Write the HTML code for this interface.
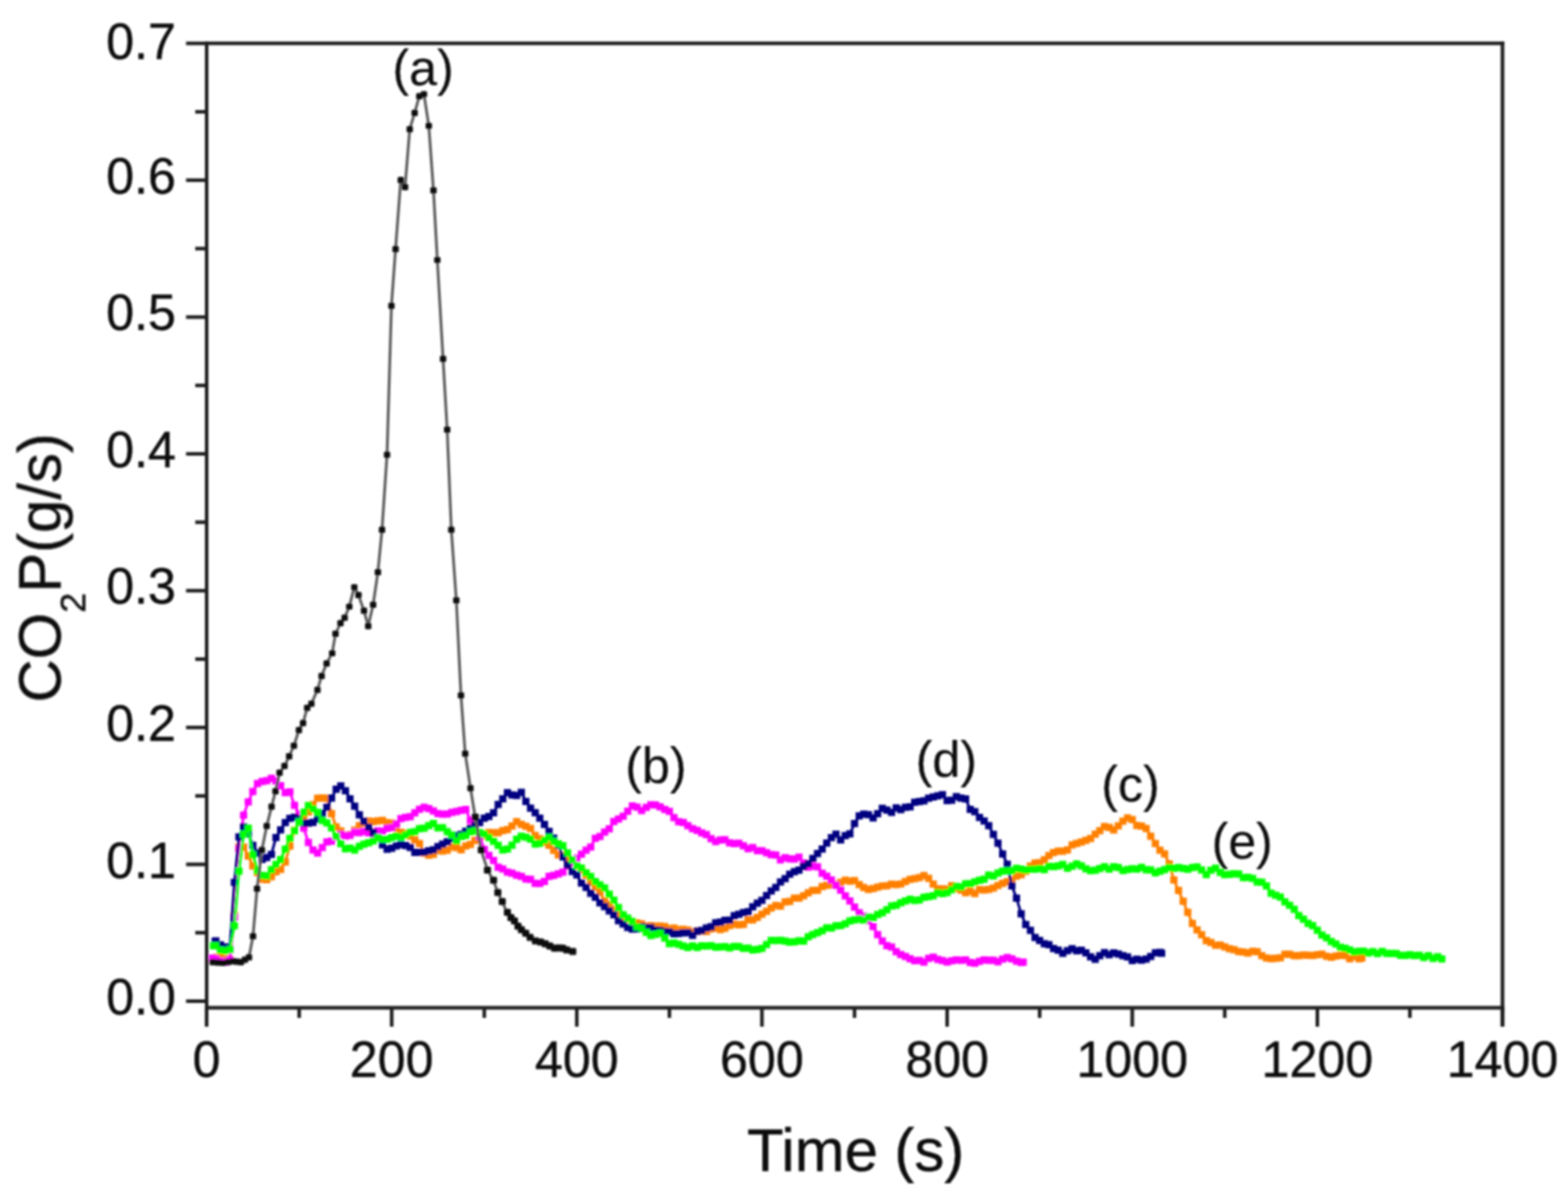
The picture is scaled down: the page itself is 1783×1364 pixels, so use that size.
<!DOCTYPE html><html><head><meta charset="utf-8"><title>CO2P vs Time</title><style>html,body{margin:0;padding:0;background:#fff;}svg{display:block;}</style></head><body>
<svg width="1783" height="1364" viewBox="0 0 1783 1364">
<rect width="1783" height="1364" fill="#fff"/>
<defs><filter id="bl" filterUnits="userSpaceOnUse" x="0" y="0" width="1783" height="1364"><feGaussianBlur stdDeviation="1.0"/></filter></defs>
<g filter="url(#bl)">
<g fill="#ff8000">
<polyline points="246.5,1088 250.7,1088.4 256,1089.5 261.2,1090.5 266.5,1040.5 271.7,962.6 277,962.9 282.3,973 287.5,984.3 292.8,991.8 298.1,999.4 303.3,999.9 308.6,996.5 313.8,990.9 319.1,988.2 324.4,979.8 329.6,961.7 334.9,943.9 340.2,934.6 345.4,928.3 350.7,922.9 355.9,914.6 361.2,907.3 366.5,907 371.7,907.4 377,924.8 382.3,939.9 387.5,944.4 392.8,949.7 398,948.7 403.3,943.6 408.6,938.5 413.8,935.9 419.1,933.3 424.4,933.9 429.6,933.1 434.9,932.5 440.2,935.1 445.4,935.6 450.7,941.4 455.9,946.1 461.2,947.7 466.5,950.4 471.7,954.7 477,958.8 482.3,969.7 487.5,972.1 492.8,971.1 498,966.7 503.3,967.4 508.6,966.4 513.8,962.7 519.1,963.4 524.4,965.9 529.6,961.6 534.9,959.9 540.1,955.3 545.4,952 550.7,949.5 555.9,946.3 561.2,946.5 566.5,946.5 571.7,944.1 577,943 582.2,938.9 587.5,933.9 592.8,937.1 598,939.2 603.3,941.7 608.6,949.7 613.8,953.3 619.1,957.3 624.4,960.8 629.6,966.5 634.9,971.7 640.1,972.2 645.4,977.5 650.7,979.5 655.9,984.5 661.2,988.7 666.5,994.6 671.7,1002.9 677,1008 682.2,1013.9 687.5,1024.3 692.8,1028.3 698,1033.8 703.3,1039.7 708.6,1042.9 713.8,1044.8 719.1,1051 724.3,1049.1 729.6,1050.1 734.9,1052.8 740.1,1052.1 745.4,1052.8 750.7,1052.6 755.9,1053.2 761.2,1055.6 766.4,1054.9 771.7,1056.7 777,1056.4 782.2,1057.2 787.5,1059.6 792.8,1058.4 798,1058.3 803.3,1058.8 808.6,1055.9 813.8,1054.9 819.1,1056.6 824.3,1055.2 829.6,1052.1 834.9,1050.5 840.1,1051.2 845.4,1050.7 850.7,1045.5 855.9,1045.6 861.2,1042.8 866.4,1039.2 871.7,1035.9 877,1032.1 882.2,1029.2 887.5,1030 892.8,1025.2 898,1024.6 903.3,1020.9 908.5,1020.9 913.8,1018.2 919.1,1014.8 924.3,1012.1 929.6,1012 934.9,1007.7 940.1,1006.3 945.4,1005.8 950.6,1005.4 955.9,1003 961.2,1000.5 966.4,1001.6 971.7,1000.9 977,1005.5 982.2,1008.8 987.5,1011 992.8,1010 998,1008.4 1003.3,1007.1 1008.5,1006.8 1013.8,1005 1019.1,1005.5 1024.3,1004.8 1029.6,1002 1034.9,999.6 1040.1,998.7 1045.4,997.6 1050.6,995.2 1055.9,998.4 1061.2,1004.9 1066.4,1010.3 1071.7,1010.4 1077,1010.7 1082.2,1006.7 1087.5,1009.6 1092.7,1011.7 1098,1014.7 1103.3,1013.2 1108.5,1015.7 1113.8,1011.2 1119.1,1011.6 1124.3,1011 1129.6,1009.4 1134.8,1006.5 1140.1,1004.1 1145.4,1002.2 1150.6,1000.4 1155.9,995.8 1161.2,994.3 1166.4,990.4 1171.7,984.4 1177,981 1182.2,980.6 1187.5,977.3 1192.7,972.5 1198,969.1 1203.3,967.5 1208.5,967.5 1213.8,966.1 1219.1,960.4 1224.3,958.7 1229.6,957.1 1234.8,955.2 1240.1,953.1 1245.4,948.2 1250.6,944.2 1255.9,939.5 1261.2,940.5 1266.4,943.4 1271.7,938.7 1276.9,933.4 1282.2,929.7 1287.5,931.6 1292.7,938.3 1298,939 1303.3,941.7 1308.5,950.5 1313.8,958.8 1319,966.4 1324.3,970.6 1329.6,982 1334.8,1000.2 1340.1,1012.1 1345.4,1024.4 1350.6,1037 1355.9,1049.7 1361.2,1057 1366.4,1062.5 1371.7,1069.2 1376.9,1071.3 1382.2,1074.4 1387.5,1074.2 1392.7,1076.3 1398,1078.4 1403.3,1079.5 1408.5,1081.6 1413.8,1082.1 1419,1083.3 1424.3,1081.4 1429.6,1081.8 1434.8,1086.3 1440.1,1088.9 1445.4,1089.7 1450.6,1089.3 1455.9,1088.7 1461.1,1084.7 1466.4,1084.7 1471.7,1086.3 1476.9,1086.3 1482.2,1085.6 1487.5,1085.8 1492.7,1086.1 1498,1085.2 1503.2,1084.6 1508.5,1087 1513.8,1088.1 1519,1086.7 1524.3,1085.9 1529.6,1086.2 1534.8,1089.8 1540.1,1087.3 1545.4,1089.8 1548.6,1089" fill="none" stroke="#ff8000" stroke-width="3" stroke-linejoin="round"/>
<rect x="242.4" y="1083.9" width="8.2" height="8.2"/>
<rect x="246.6" y="1084.3" width="8.2" height="8.2"/>
<rect x="251.9" y="1085.4" width="8.2" height="8.2"/>
<rect x="257.1" y="1086.4" width="8.2" height="8.2"/>
<rect x="262.4" y="1036.4" width="8.2" height="8.2"/>
<rect x="267.6" y="958.5" width="8.2" height="8.2"/>
<rect x="272.9" y="958.8" width="8.2" height="8.2"/>
<rect x="278.2" y="968.9" width="8.2" height="8.2"/>
<rect x="283.4" y="980.2" width="8.2" height="8.2"/>
<rect x="288.7" y="987.7" width="8.2" height="8.2"/>
<rect x="294" y="995.3" width="8.2" height="8.2"/>
<rect x="299.2" y="995.8" width="8.2" height="8.2"/>
<rect x="304.5" y="992.4" width="8.2" height="8.2"/>
<rect x="309.7" y="986.8" width="8.2" height="8.2"/>
<rect x="315" y="984.1" width="8.2" height="8.2"/>
<rect x="320.3" y="975.7" width="8.2" height="8.2"/>
<rect x="325.5" y="957.6" width="8.2" height="8.2"/>
<rect x="330.8" y="939.8" width="8.2" height="8.2"/>
<rect x="336.1" y="930.5" width="8.2" height="8.2"/>
<rect x="341.3" y="924.2" width="8.2" height="8.2"/>
<rect x="346.6" y="918.8" width="8.2" height="8.2"/>
<rect x="351.8" y="910.5" width="8.2" height="8.2"/>
<rect x="357.1" y="903.2" width="8.2" height="8.2"/>
<rect x="362.4" y="902.9" width="8.2" height="8.2"/>
<rect x="367.6" y="903.3" width="8.2" height="8.2"/>
<rect x="372.9" y="920.7" width="8.2" height="8.2"/>
<rect x="378.2" y="935.8" width="8.2" height="8.2"/>
<rect x="383.4" y="940.3" width="8.2" height="8.2"/>
<rect x="388.7" y="945.6" width="8.2" height="8.2"/>
<rect x="393.9" y="944.6" width="8.2" height="8.2"/>
<rect x="399.2" y="939.5" width="8.2" height="8.2"/>
<rect x="404.5" y="934.4" width="8.2" height="8.2"/>
<rect x="409.7" y="931.8" width="8.2" height="8.2"/>
<rect x="415" y="929.2" width="8.2" height="8.2"/>
<rect x="420.3" y="929.8" width="8.2" height="8.2"/>
<rect x="425.5" y="929" width="8.2" height="8.2"/>
<rect x="430.8" y="928.4" width="8.2" height="8.2"/>
<rect x="436.1" y="931" width="8.2" height="8.2"/>
<rect x="441.3" y="931.5" width="8.2" height="8.2"/>
<rect x="446.6" y="937.3" width="8.2" height="8.2"/>
<rect x="451.8" y="942" width="8.2" height="8.2"/>
<rect x="457.1" y="943.6" width="8.2" height="8.2"/>
<rect x="462.4" y="946.3" width="8.2" height="8.2"/>
<rect x="467.6" y="950.6" width="8.2" height="8.2"/>
<rect x="472.9" y="954.7" width="8.2" height="8.2"/>
<rect x="478.2" y="965.6" width="8.2" height="8.2"/>
<rect x="483.4" y="968" width="8.2" height="8.2"/>
<rect x="488.7" y="967" width="8.2" height="8.2"/>
<rect x="493.9" y="962.6" width="8.2" height="8.2"/>
<rect x="499.2" y="963.3" width="8.2" height="8.2"/>
<rect x="504.5" y="962.3" width="8.2" height="8.2"/>
<rect x="509.7" y="958.6" width="8.2" height="8.2"/>
<rect x="515" y="959.3" width="8.2" height="8.2"/>
<rect x="520.3" y="961.8" width="8.2" height="8.2"/>
<rect x="525.5" y="957.5" width="8.2" height="8.2"/>
<rect x="530.8" y="955.8" width="8.2" height="8.2"/>
<rect x="536" y="951.2" width="8.2" height="8.2"/>
<rect x="541.3" y="947.9" width="8.2" height="8.2"/>
<rect x="546.6" y="945.4" width="8.2" height="8.2"/>
<rect x="551.8" y="942.2" width="8.2" height="8.2"/>
<rect x="557.1" y="942.4" width="8.2" height="8.2"/>
<rect x="562.4" y="942.4" width="8.2" height="8.2"/>
<rect x="567.6" y="940" width="8.2" height="8.2"/>
<rect x="572.9" y="938.9" width="8.2" height="8.2"/>
<rect x="578.1" y="934.8" width="8.2" height="8.2"/>
<rect x="583.4" y="929.8" width="8.2" height="8.2"/>
<rect x="588.7" y="933" width="8.2" height="8.2"/>
<rect x="593.9" y="935.1" width="8.2" height="8.2"/>
<rect x="599.2" y="937.6" width="8.2" height="8.2"/>
<rect x="604.5" y="945.6" width="8.2" height="8.2"/>
<rect x="609.7" y="949.2" width="8.2" height="8.2"/>
<rect x="615" y="953.2" width="8.2" height="8.2"/>
<rect x="620.3" y="956.7" width="8.2" height="8.2"/>
<rect x="625.5" y="962.4" width="8.2" height="8.2"/>
<rect x="630.8" y="967.6" width="8.2" height="8.2"/>
<rect x="636" y="968.1" width="8.2" height="8.2"/>
<rect x="641.3" y="973.4" width="8.2" height="8.2"/>
<rect x="646.6" y="975.4" width="8.2" height="8.2"/>
<rect x="651.8" y="980.4" width="8.2" height="8.2"/>
<rect x="657.1" y="984.6" width="8.2" height="8.2"/>
<rect x="662.4" y="990.5" width="8.2" height="8.2"/>
<rect x="667.6" y="998.8" width="8.2" height="8.2"/>
<rect x="672.9" y="1003.9" width="8.2" height="8.2"/>
<rect x="678.1" y="1009.8" width="8.2" height="8.2"/>
<rect x="683.4" y="1020.2" width="8.2" height="8.2"/>
<rect x="688.7" y="1024.2" width="8.2" height="8.2"/>
<rect x="693.9" y="1029.7" width="8.2" height="8.2"/>
<rect x="699.2" y="1035.6" width="8.2" height="8.2"/>
<rect x="704.5" y="1038.8" width="8.2" height="8.2"/>
<rect x="709.7" y="1040.7" width="8.2" height="8.2"/>
<rect x="715" y="1046.9" width="8.2" height="8.2"/>
<rect x="720.2" y="1045" width="8.2" height="8.2"/>
<rect x="725.5" y="1046" width="8.2" height="8.2"/>
<rect x="730.8" y="1048.7" width="8.2" height="8.2"/>
<rect x="736" y="1048" width="8.2" height="8.2"/>
<rect x="741.3" y="1048.7" width="8.2" height="8.2"/>
<rect x="746.6" y="1048.5" width="8.2" height="8.2"/>
<rect x="751.8" y="1049.1" width="8.2" height="8.2"/>
<rect x="757.1" y="1051.5" width="8.2" height="8.2"/>
<rect x="762.3" y="1050.8" width="8.2" height="8.2"/>
<rect x="767.6" y="1052.6" width="8.2" height="8.2"/>
<rect x="772.9" y="1052.3" width="8.2" height="8.2"/>
<rect x="778.1" y="1053.1" width="8.2" height="8.2"/>
<rect x="783.4" y="1055.5" width="8.2" height="8.2"/>
<rect x="788.7" y="1054.3" width="8.2" height="8.2"/>
<rect x="793.9" y="1054.2" width="8.2" height="8.2"/>
<rect x="799.2" y="1054.7" width="8.2" height="8.2"/>
<rect x="804.5" y="1051.8" width="8.2" height="8.2"/>
<rect x="809.7" y="1050.8" width="8.2" height="8.2"/>
<rect x="815" y="1052.5" width="8.2" height="8.2"/>
<rect x="820.2" y="1051.1" width="8.2" height="8.2"/>
<rect x="825.5" y="1048" width="8.2" height="8.2"/>
<rect x="830.8" y="1046.4" width="8.2" height="8.2"/>
<rect x="836" y="1047.1" width="8.2" height="8.2"/>
<rect x="841.3" y="1046.6" width="8.2" height="8.2"/>
<rect x="846.6" y="1041.4" width="8.2" height="8.2"/>
<rect x="851.8" y="1041.5" width="8.2" height="8.2"/>
<rect x="857.1" y="1038.7" width="8.2" height="8.2"/>
<rect x="862.3" y="1035.1" width="8.2" height="8.2"/>
<rect x="867.6" y="1031.8" width="8.2" height="8.2"/>
<rect x="872.9" y="1028" width="8.2" height="8.2"/>
<rect x="878.1" y="1025.1" width="8.2" height="8.2"/>
<rect x="883.4" y="1025.9" width="8.2" height="8.2"/>
<rect x="888.7" y="1021.1" width="8.2" height="8.2"/>
<rect x="893.9" y="1020.5" width="8.2" height="8.2"/>
<rect x="899.2" y="1016.8" width="8.2" height="8.2"/>
<rect x="904.4" y="1016.8" width="8.2" height="8.2"/>
<rect x="909.7" y="1014.1" width="8.2" height="8.2"/>
<rect x="915" y="1010.7" width="8.2" height="8.2"/>
<rect x="920.2" y="1008" width="8.2" height="8.2"/>
<rect x="925.5" y="1007.9" width="8.2" height="8.2"/>
<rect x="930.8" y="1003.6" width="8.2" height="8.2"/>
<rect x="936" y="1002.2" width="8.2" height="8.2"/>
<rect x="941.3" y="1001.7" width="8.2" height="8.2"/>
<rect x="946.5" y="1001.3" width="8.2" height="8.2"/>
<rect x="951.8" y="998.9" width="8.2" height="8.2"/>
<rect x="957.1" y="996.4" width="8.2" height="8.2"/>
<rect x="962.3" y="997.5" width="8.2" height="8.2"/>
<rect x="967.6" y="996.8" width="8.2" height="8.2"/>
<rect x="972.9" y="1001.4" width="8.2" height="8.2"/>
<rect x="978.1" y="1004.7" width="8.2" height="8.2"/>
<rect x="983.4" y="1006.9" width="8.2" height="8.2"/>
<rect x="988.7" y="1005.9" width="8.2" height="8.2"/>
<rect x="993.9" y="1004.3" width="8.2" height="8.2"/>
<rect x="999.2" y="1003" width="8.2" height="8.2"/>
<rect x="1004.4" y="1002.7" width="8.2" height="8.2"/>
<rect x="1009.7" y="1000.9" width="8.2" height="8.2"/>
<rect x="1015" y="1001.4" width="8.2" height="8.2"/>
<rect x="1020.2" y="1000.7" width="8.2" height="8.2"/>
<rect x="1025.5" y="997.9" width="8.2" height="8.2"/>
<rect x="1030.8" y="995.5" width="8.2" height="8.2"/>
<rect x="1036" y="994.6" width="8.2" height="8.2"/>
<rect x="1041.3" y="993.5" width="8.2" height="8.2"/>
<rect x="1046.5" y="991.1" width="8.2" height="8.2"/>
<rect x="1051.8" y="994.3" width="8.2" height="8.2"/>
<rect x="1057.1" y="1000.8" width="8.2" height="8.2"/>
<rect x="1062.3" y="1006.2" width="8.2" height="8.2"/>
<rect x="1067.6" y="1006.3" width="8.2" height="8.2"/>
<rect x="1072.9" y="1006.6" width="8.2" height="8.2"/>
<rect x="1078.1" y="1002.6" width="8.2" height="8.2"/>
<rect x="1083.4" y="1005.5" width="8.2" height="8.2"/>
<rect x="1088.6" y="1007.6" width="8.2" height="8.2"/>
<rect x="1093.9" y="1010.6" width="8.2" height="8.2"/>
<rect x="1099.2" y="1009.1" width="8.2" height="8.2"/>
<rect x="1104.4" y="1011.6" width="8.2" height="8.2"/>
<rect x="1109.7" y="1007.1" width="8.2" height="8.2"/>
<rect x="1115" y="1007.5" width="8.2" height="8.2"/>
<rect x="1120.2" y="1006.9" width="8.2" height="8.2"/>
<rect x="1125.5" y="1005.3" width="8.2" height="8.2"/>
<rect x="1130.7" y="1002.4" width="8.2" height="8.2"/>
<rect x="1136" y="1000" width="8.2" height="8.2"/>
<rect x="1141.3" y="998.1" width="8.2" height="8.2"/>
<rect x="1146.5" y="996.3" width="8.2" height="8.2"/>
<rect x="1151.8" y="991.7" width="8.2" height="8.2"/>
<rect x="1157.1" y="990.2" width="8.2" height="8.2"/>
<rect x="1162.3" y="986.3" width="8.2" height="8.2"/>
<rect x="1167.6" y="980.3" width="8.2" height="8.2"/>
<rect x="1172.9" y="976.9" width="8.2" height="8.2"/>
<rect x="1178.1" y="976.5" width="8.2" height="8.2"/>
<rect x="1183.4" y="973.2" width="8.2" height="8.2"/>
<rect x="1188.6" y="968.4" width="8.2" height="8.2"/>
<rect x="1193.9" y="965" width="8.2" height="8.2"/>
<rect x="1199.2" y="963.4" width="8.2" height="8.2"/>
<rect x="1204.4" y="963.4" width="8.2" height="8.2"/>
<rect x="1209.7" y="962" width="8.2" height="8.2"/>
<rect x="1215" y="956.3" width="8.2" height="8.2"/>
<rect x="1220.2" y="954.6" width="8.2" height="8.2"/>
<rect x="1225.5" y="953" width="8.2" height="8.2"/>
<rect x="1230.7" y="951.1" width="8.2" height="8.2"/>
<rect x="1236" y="949" width="8.2" height="8.2"/>
<rect x="1241.3" y="944.1" width="8.2" height="8.2"/>
<rect x="1246.5" y="940.1" width="8.2" height="8.2"/>
<rect x="1251.8" y="935.4" width="8.2" height="8.2"/>
<rect x="1257.1" y="936.4" width="8.2" height="8.2"/>
<rect x="1262.3" y="939.3" width="8.2" height="8.2"/>
<rect x="1267.6" y="934.6" width="8.2" height="8.2"/>
<rect x="1272.8" y="929.3" width="8.2" height="8.2"/>
<rect x="1278.1" y="925.6" width="8.2" height="8.2"/>
<rect x="1283.4" y="927.5" width="8.2" height="8.2"/>
<rect x="1288.6" y="934.2" width="8.2" height="8.2"/>
<rect x="1293.9" y="934.9" width="8.2" height="8.2"/>
<rect x="1299.2" y="937.6" width="8.2" height="8.2"/>
<rect x="1304.4" y="946.4" width="8.2" height="8.2"/>
<rect x="1309.7" y="954.7" width="8.2" height="8.2"/>
<rect x="1314.9" y="962.3" width="8.2" height="8.2"/>
<rect x="1320.2" y="966.5" width="8.2" height="8.2"/>
<rect x="1325.5" y="977.9" width="8.2" height="8.2"/>
<rect x="1330.7" y="996.1" width="8.2" height="8.2"/>
<rect x="1336" y="1008" width="8.2" height="8.2"/>
<rect x="1341.3" y="1020.3" width="8.2" height="8.2"/>
<rect x="1346.5" y="1032.9" width="8.2" height="8.2"/>
<rect x="1351.8" y="1045.6" width="8.2" height="8.2"/>
<rect x="1357.1" y="1052.9" width="8.2" height="8.2"/>
<rect x="1362.3" y="1058.4" width="8.2" height="8.2"/>
<rect x="1367.6" y="1065.1" width="8.2" height="8.2"/>
<rect x="1372.8" y="1067.2" width="8.2" height="8.2"/>
<rect x="1378.1" y="1070.3" width="8.2" height="8.2"/>
<rect x="1383.4" y="1070.1" width="8.2" height="8.2"/>
<rect x="1388.6" y="1072.2" width="8.2" height="8.2"/>
<rect x="1393.9" y="1074.3" width="8.2" height="8.2"/>
<rect x="1399.2" y="1075.4" width="8.2" height="8.2"/>
<rect x="1404.4" y="1077.5" width="8.2" height="8.2"/>
<rect x="1409.7" y="1078" width="8.2" height="8.2"/>
<rect x="1414.9" y="1079.2" width="8.2" height="8.2"/>
<rect x="1420.2" y="1077.3" width="8.2" height="8.2"/>
<rect x="1425.5" y="1077.7" width="8.2" height="8.2"/>
<rect x="1430.7" y="1082.2" width="8.2" height="8.2"/>
<rect x="1436" y="1084.8" width="8.2" height="8.2"/>
<rect x="1441.3" y="1085.6" width="8.2" height="8.2"/>
<rect x="1446.5" y="1085.2" width="8.2" height="8.2"/>
<rect x="1451.8" y="1084.6" width="8.2" height="8.2"/>
<rect x="1457" y="1080.6" width="8.2" height="8.2"/>
<rect x="1462.3" y="1080.6" width="8.2" height="8.2"/>
<rect x="1467.6" y="1082.2" width="8.2" height="8.2"/>
<rect x="1472.8" y="1082.2" width="8.2" height="8.2"/>
<rect x="1478.1" y="1081.5" width="8.2" height="8.2"/>
<rect x="1483.4" y="1081.7" width="8.2" height="8.2"/>
<rect x="1488.6" y="1082" width="8.2" height="8.2"/>
<rect x="1493.9" y="1081.1" width="8.2" height="8.2"/>
<rect x="1499.1" y="1080.5" width="8.2" height="8.2"/>
<rect x="1504.4" y="1082.9" width="8.2" height="8.2"/>
<rect x="1509.7" y="1084" width="8.2" height="8.2"/>
<rect x="1514.9" y="1082.6" width="8.2" height="8.2"/>
<rect x="1520.2" y="1081.8" width="8.2" height="8.2"/>
<rect x="1525.5" y="1082.1" width="8.2" height="8.2"/>
<rect x="1530.7" y="1085.7" width="8.2" height="8.2"/>
<rect x="1536" y="1083.2" width="8.2" height="8.2"/>
<rect x="1541.3" y="1085.7" width="8.2" height="8.2"/>
<rect x="1544.5" y="1084.9" width="8.2" height="8.2"/>
</g>
<g fill="#ff00ff">
<polyline points="241.9,1089 245.4,1090.1 250.7,1092.5 256,1093.4 261.2,1090.9 266.5,1042.7 271.7,964.5 277,926.6 282.3,911.5 287.5,899.7 292.8,890.6 298.1,888.3 303.3,887.4 308.6,884.7 313.8,887.6 319.1,893.1 324.4,901 329.6,900.1 334.9,915.4 340.2,925.1 345.4,941.3 350.7,957.6 355.9,966.2 361.2,969.6 366.5,963.4 371.7,957 377,956.1 382.3,951.6 387.5,948.5 392.8,950.3 398,949.5 403.3,946.1 408.6,946.4 413.8,945.1 419.1,946.6 424.4,947.9 429.6,944.5 434.9,944.9 440.2,941.6 445.4,940.7 450.7,936.7 455.9,930.5 461.2,929.1 466.5,928.3 471.7,923.9 477,919.9 482.3,917.6 487.5,919.1 492.8,921.8 498,924.8 503.3,925.4 508.6,925.3 513.8,923.4 519.1,922.4 524.4,921.1 529.6,920.1 534.9,932.5 540.1,938.3 545.4,950.8 550.7,965.6 555.9,972.4 561.2,978.1 566.5,985.8 571.7,987.7 577,991.3 582.2,992.5 587.5,994.8 592.8,996.2 598,999.2 603.3,999.5 608.6,1004.1 613.8,1004.2 619.1,1001.9 624.4,996.1 629.6,995 634.9,993.3 640.1,991.3 645.4,984 650.7,981 655.9,975.6 661.2,970.9 666.5,966.4 671.7,962.8 677,952.9 682.2,950.8 687.5,945.8 692.8,942.1 698,933.8 703.3,931 708.6,927.8 713.8,922.1 719.1,916.1 724.3,917.4 729.6,921.3 734.9,917.7 740.1,914.8 745.4,915 750.7,917.2 755.9,920.1 761.2,922.3 766.4,929.4 771.7,934 777,934.9 782.2,938.5 787.5,941.9 792.8,943.9 798,946.7 803.3,948.7 808.6,953.3 813.8,956.6 819.1,954.8 824.3,954.5 829.6,958 834.9,958.9 840.1,958.5 845.4,961.4 850.7,964.7 855.9,963.4 861.2,966.9 866.4,967 871.7,969.3 877,971.5 882.2,971.9 887.5,977.4 892.8,974.9 898,976.2 903.3,976.4 908.5,974.3 913.8,981 919.1,985.6 924.3,984.6 929.6,985.3 934.9,992.6 940.1,995.9 945.4,1000.3 950.6,1006.3 955.9,1011.8 961.2,1018.3 966.4,1024.1 971.7,1031.1 977,1037.5 982.2,1041.4 987.5,1046.6 992.8,1053.2 998,1062.4 1003.3,1069.6 1008.5,1074.9 1013.8,1076.5 1019.1,1081.7 1024.3,1085 1029.6,1087.2 1034.9,1089.8 1040.1,1092 1045.4,1091.7 1050.6,1093.6 1055.9,1089.4 1061.2,1088 1066.4,1090.6 1071.7,1091.8 1077,1093.5 1082.2,1092.1 1087.5,1091.1 1092.7,1091.5 1098,1091.1 1103.3,1094 1108.5,1094.8 1113.8,1092.7 1119.1,1091.1 1124.3,1091.5 1129.6,1091.5 1134.8,1093.2 1140.1,1090.2 1145.4,1088.4 1150.6,1089.9 1155.9,1092.5 1161.2,1094 1163.5,1093.6" fill="none" stroke="#ff00ff" stroke-width="3" stroke-linejoin="round"/>
<rect x="237.8" y="1084.9" width="8.2" height="8.2"/>
<rect x="241.3" y="1086" width="8.2" height="8.2"/>
<rect x="246.6" y="1088.4" width="8.2" height="8.2"/>
<rect x="251.9" y="1089.3" width="8.2" height="8.2"/>
<rect x="257.1" y="1086.8" width="8.2" height="8.2"/>
<rect x="262.4" y="1038.6" width="8.2" height="8.2"/>
<rect x="267.6" y="960.4" width="8.2" height="8.2"/>
<rect x="272.9" y="922.5" width="8.2" height="8.2"/>
<rect x="278.2" y="907.4" width="8.2" height="8.2"/>
<rect x="283.4" y="895.6" width="8.2" height="8.2"/>
<rect x="288.7" y="886.5" width="8.2" height="8.2"/>
<rect x="294" y="884.2" width="8.2" height="8.2"/>
<rect x="299.2" y="883.3" width="8.2" height="8.2"/>
<rect x="304.5" y="880.6" width="8.2" height="8.2"/>
<rect x="309.7" y="883.5" width="8.2" height="8.2"/>
<rect x="315" y="889" width="8.2" height="8.2"/>
<rect x="320.3" y="896.9" width="8.2" height="8.2"/>
<rect x="325.5" y="896" width="8.2" height="8.2"/>
<rect x="330.8" y="911.3" width="8.2" height="8.2"/>
<rect x="336.1" y="921" width="8.2" height="8.2"/>
<rect x="341.3" y="937.2" width="8.2" height="8.2"/>
<rect x="346.6" y="953.5" width="8.2" height="8.2"/>
<rect x="351.8" y="962.1" width="8.2" height="8.2"/>
<rect x="357.1" y="965.5" width="8.2" height="8.2"/>
<rect x="362.4" y="959.3" width="8.2" height="8.2"/>
<rect x="367.6" y="952.9" width="8.2" height="8.2"/>
<rect x="372.9" y="952" width="8.2" height="8.2"/>
<rect x="378.2" y="947.5" width="8.2" height="8.2"/>
<rect x="383.4" y="944.4" width="8.2" height="8.2"/>
<rect x="388.7" y="946.2" width="8.2" height="8.2"/>
<rect x="393.9" y="945.4" width="8.2" height="8.2"/>
<rect x="399.2" y="942" width="8.2" height="8.2"/>
<rect x="404.5" y="942.3" width="8.2" height="8.2"/>
<rect x="409.7" y="941" width="8.2" height="8.2"/>
<rect x="415" y="942.5" width="8.2" height="8.2"/>
<rect x="420.3" y="943.8" width="8.2" height="8.2"/>
<rect x="425.5" y="940.4" width="8.2" height="8.2"/>
<rect x="430.8" y="940.8" width="8.2" height="8.2"/>
<rect x="436.1" y="937.5" width="8.2" height="8.2"/>
<rect x="441.3" y="936.6" width="8.2" height="8.2"/>
<rect x="446.6" y="932.6" width="8.2" height="8.2"/>
<rect x="451.8" y="926.4" width="8.2" height="8.2"/>
<rect x="457.1" y="925" width="8.2" height="8.2"/>
<rect x="462.4" y="924.2" width="8.2" height="8.2"/>
<rect x="467.6" y="919.8" width="8.2" height="8.2"/>
<rect x="472.9" y="915.8" width="8.2" height="8.2"/>
<rect x="478.2" y="913.5" width="8.2" height="8.2"/>
<rect x="483.4" y="915" width="8.2" height="8.2"/>
<rect x="488.7" y="917.7" width="8.2" height="8.2"/>
<rect x="493.9" y="920.7" width="8.2" height="8.2"/>
<rect x="499.2" y="921.3" width="8.2" height="8.2"/>
<rect x="504.5" y="921.2" width="8.2" height="8.2"/>
<rect x="509.7" y="919.3" width="8.2" height="8.2"/>
<rect x="515" y="918.3" width="8.2" height="8.2"/>
<rect x="520.3" y="917" width="8.2" height="8.2"/>
<rect x="525.5" y="916" width="8.2" height="8.2"/>
<rect x="530.8" y="928.4" width="8.2" height="8.2"/>
<rect x="536" y="934.2" width="8.2" height="8.2"/>
<rect x="541.3" y="946.7" width="8.2" height="8.2"/>
<rect x="546.6" y="961.5" width="8.2" height="8.2"/>
<rect x="551.8" y="968.3" width="8.2" height="8.2"/>
<rect x="557.1" y="974" width="8.2" height="8.2"/>
<rect x="562.4" y="981.7" width="8.2" height="8.2"/>
<rect x="567.6" y="983.6" width="8.2" height="8.2"/>
<rect x="572.9" y="987.2" width="8.2" height="8.2"/>
<rect x="578.1" y="988.4" width="8.2" height="8.2"/>
<rect x="583.4" y="990.7" width="8.2" height="8.2"/>
<rect x="588.7" y="992.1" width="8.2" height="8.2"/>
<rect x="593.9" y="995.1" width="8.2" height="8.2"/>
<rect x="599.2" y="995.4" width="8.2" height="8.2"/>
<rect x="604.5" y="1000" width="8.2" height="8.2"/>
<rect x="609.7" y="1000.1" width="8.2" height="8.2"/>
<rect x="615" y="997.8" width="8.2" height="8.2"/>
<rect x="620.3" y="992" width="8.2" height="8.2"/>
<rect x="625.5" y="990.9" width="8.2" height="8.2"/>
<rect x="630.8" y="989.2" width="8.2" height="8.2"/>
<rect x="636" y="987.2" width="8.2" height="8.2"/>
<rect x="641.3" y="979.9" width="8.2" height="8.2"/>
<rect x="646.6" y="976.9" width="8.2" height="8.2"/>
<rect x="651.8" y="971.5" width="8.2" height="8.2"/>
<rect x="657.1" y="966.8" width="8.2" height="8.2"/>
<rect x="662.4" y="962.3" width="8.2" height="8.2"/>
<rect x="667.6" y="958.7" width="8.2" height="8.2"/>
<rect x="672.9" y="948.8" width="8.2" height="8.2"/>
<rect x="678.1" y="946.7" width="8.2" height="8.2"/>
<rect x="683.4" y="941.7" width="8.2" height="8.2"/>
<rect x="688.7" y="938" width="8.2" height="8.2"/>
<rect x="693.9" y="929.7" width="8.2" height="8.2"/>
<rect x="699.2" y="926.9" width="8.2" height="8.2"/>
<rect x="704.5" y="923.7" width="8.2" height="8.2"/>
<rect x="709.7" y="918" width="8.2" height="8.2"/>
<rect x="715" y="912" width="8.2" height="8.2"/>
<rect x="720.2" y="913.3" width="8.2" height="8.2"/>
<rect x="725.5" y="917.2" width="8.2" height="8.2"/>
<rect x="730.8" y="913.6" width="8.2" height="8.2"/>
<rect x="736" y="910.7" width="8.2" height="8.2"/>
<rect x="741.3" y="910.9" width="8.2" height="8.2"/>
<rect x="746.6" y="913.1" width="8.2" height="8.2"/>
<rect x="751.8" y="916" width="8.2" height="8.2"/>
<rect x="757.1" y="918.2" width="8.2" height="8.2"/>
<rect x="762.3" y="925.3" width="8.2" height="8.2"/>
<rect x="767.6" y="929.9" width="8.2" height="8.2"/>
<rect x="772.9" y="930.8" width="8.2" height="8.2"/>
<rect x="778.1" y="934.4" width="8.2" height="8.2"/>
<rect x="783.4" y="937.8" width="8.2" height="8.2"/>
<rect x="788.7" y="939.8" width="8.2" height="8.2"/>
<rect x="793.9" y="942.6" width="8.2" height="8.2"/>
<rect x="799.2" y="944.6" width="8.2" height="8.2"/>
<rect x="804.5" y="949.2" width="8.2" height="8.2"/>
<rect x="809.7" y="952.5" width="8.2" height="8.2"/>
<rect x="815" y="950.7" width="8.2" height="8.2"/>
<rect x="820.2" y="950.4" width="8.2" height="8.2"/>
<rect x="825.5" y="953.9" width="8.2" height="8.2"/>
<rect x="830.8" y="954.8" width="8.2" height="8.2"/>
<rect x="836" y="954.4" width="8.2" height="8.2"/>
<rect x="841.3" y="957.3" width="8.2" height="8.2"/>
<rect x="846.6" y="960.6" width="8.2" height="8.2"/>
<rect x="851.8" y="959.3" width="8.2" height="8.2"/>
<rect x="857.1" y="962.8" width="8.2" height="8.2"/>
<rect x="862.3" y="962.9" width="8.2" height="8.2"/>
<rect x="867.6" y="965.2" width="8.2" height="8.2"/>
<rect x="872.9" y="967.4" width="8.2" height="8.2"/>
<rect x="878.1" y="967.8" width="8.2" height="8.2"/>
<rect x="883.4" y="973.3" width="8.2" height="8.2"/>
<rect x="888.7" y="970.8" width="8.2" height="8.2"/>
<rect x="893.9" y="972.1" width="8.2" height="8.2"/>
<rect x="899.2" y="972.3" width="8.2" height="8.2"/>
<rect x="904.4" y="970.2" width="8.2" height="8.2"/>
<rect x="909.7" y="976.9" width="8.2" height="8.2"/>
<rect x="915" y="981.5" width="8.2" height="8.2"/>
<rect x="920.2" y="980.5" width="8.2" height="8.2"/>
<rect x="925.5" y="981.2" width="8.2" height="8.2"/>
<rect x="930.8" y="988.5" width="8.2" height="8.2"/>
<rect x="936" y="991.8" width="8.2" height="8.2"/>
<rect x="941.3" y="996.2" width="8.2" height="8.2"/>
<rect x="946.5" y="1002.2" width="8.2" height="8.2"/>
<rect x="951.8" y="1007.7" width="8.2" height="8.2"/>
<rect x="957.1" y="1014.2" width="8.2" height="8.2"/>
<rect x="962.3" y="1020" width="8.2" height="8.2"/>
<rect x="967.6" y="1027" width="8.2" height="8.2"/>
<rect x="972.9" y="1033.4" width="8.2" height="8.2"/>
<rect x="978.1" y="1037.3" width="8.2" height="8.2"/>
<rect x="983.4" y="1042.5" width="8.2" height="8.2"/>
<rect x="988.7" y="1049.1" width="8.2" height="8.2"/>
<rect x="993.9" y="1058.3" width="8.2" height="8.2"/>
<rect x="999.2" y="1065.5" width="8.2" height="8.2"/>
<rect x="1004.4" y="1070.8" width="8.2" height="8.2"/>
<rect x="1009.7" y="1072.4" width="8.2" height="8.2"/>
<rect x="1015" y="1077.6" width="8.2" height="8.2"/>
<rect x="1020.2" y="1080.9" width="8.2" height="8.2"/>
<rect x="1025.5" y="1083.1" width="8.2" height="8.2"/>
<rect x="1030.8" y="1085.7" width="8.2" height="8.2"/>
<rect x="1036" y="1087.9" width="8.2" height="8.2"/>
<rect x="1041.3" y="1087.6" width="8.2" height="8.2"/>
<rect x="1046.5" y="1089.5" width="8.2" height="8.2"/>
<rect x="1051.8" y="1085.3" width="8.2" height="8.2"/>
<rect x="1057.1" y="1083.9" width="8.2" height="8.2"/>
<rect x="1062.3" y="1086.5" width="8.2" height="8.2"/>
<rect x="1067.6" y="1087.7" width="8.2" height="8.2"/>
<rect x="1072.9" y="1089.4" width="8.2" height="8.2"/>
<rect x="1078.1" y="1088" width="8.2" height="8.2"/>
<rect x="1083.4" y="1087" width="8.2" height="8.2"/>
<rect x="1088.6" y="1087.4" width="8.2" height="8.2"/>
<rect x="1093.9" y="1087" width="8.2" height="8.2"/>
<rect x="1099.2" y="1089.9" width="8.2" height="8.2"/>
<rect x="1104.4" y="1090.7" width="8.2" height="8.2"/>
<rect x="1109.7" y="1088.6" width="8.2" height="8.2"/>
<rect x="1115" y="1087" width="8.2" height="8.2"/>
<rect x="1120.2" y="1087.4" width="8.2" height="8.2"/>
<rect x="1125.5" y="1087.4" width="8.2" height="8.2"/>
<rect x="1130.7" y="1089.1" width="8.2" height="8.2"/>
<rect x="1136" y="1086.1" width="8.2" height="8.2"/>
<rect x="1141.3" y="1084.3" width="8.2" height="8.2"/>
<rect x="1146.5" y="1085.8" width="8.2" height="8.2"/>
<rect x="1151.8" y="1088.4" width="8.2" height="8.2"/>
<rect x="1157.1" y="1089.9" width="8.2" height="8.2"/>
<rect x="1159.4" y="1089.5" width="8.2" height="8.2"/>
</g>
<g fill="#000080">
<polyline points="244.7,1070 245.4,1069.5 250.7,1074 256,1076.4 261.2,1079 266.5,1003 271.7,951.3 277,939.9 282.3,947.6 287.5,960.9 292.8,969.7 298.1,976.9 303.3,974.7 308.6,971.2 313.8,952 319.1,943.3 324.4,935 329.6,930.2 334.9,929 340.2,930.8 345.4,935.7 350.7,935.6 355.9,934.8 361.2,931 366.5,924.6 371.7,917.5 377,907.2 382.3,897.1 387.5,893.3 392.8,898.8 398,908 403.3,916.4 408.6,926.2 413.8,933.6 419.1,940.1 424.4,946.3 429.6,951.8 434.9,960.3 440.2,965.3 445.4,964.2 450.7,961.5 455.9,959.9 461.2,961.1 466.5,963.3 471.7,968.9 477,968.8 482.3,968.6 487.5,967.1 492.8,966 498,962.3 503.3,959.5 508.6,956.8 513.8,953.4 519.1,949.8 524.4,948.5 529.6,944.9 534.9,941.5 540.1,938 545.4,935 550.7,930 555.9,928.1 561.2,923.9 566.5,914.4 571.7,908 577,901 582.2,903.6 587.5,904.2 592.8,900.6 598,911 603.3,918.6 608.6,923.8 613.8,930 619.1,937.1 624.4,945 629.6,952.7 634.9,960.6 640.1,974 645.4,983.3 650.7,990.6 655.9,994.5 661.2,1003.7 666.5,1008.7 671.7,1015.4 677,1019.9 682.2,1026.2 687.5,1030.5 692.8,1035.4 698,1039.8 703.3,1046.5 708.6,1050.3 713.8,1054.3 719.1,1056.1 724.3,1055.9 729.6,1053.3 734.9,1054.4 740.1,1054.5 745.4,1057.3 750.7,1057.7 755.9,1058.9 761.2,1059.2 766.4,1061.5 771.7,1061.1 777,1060.3 782.2,1060.1 787.5,1063.2 792.8,1058.5 798,1057.6 803.3,1054.8 808.6,1053.4 813.8,1048.9 819.1,1048.2 824.3,1046.1 829.6,1045.9 834.9,1040.8 840.1,1039.3 845.4,1037.3 850.7,1036.3 855.9,1030.7 861.2,1026.6 866.4,1023.4 871.7,1017.9 877,1012.7 882.2,1008.7 887.5,1002.5 892.8,998.7 898,993.7 903.3,990.8 908.5,989.1 913.8,984.7 919.1,981.9 924.3,975.8 929.6,970.2 934.9,965.1 940.1,958.3 945.4,952.1 950.6,948.2 955.9,954.7 961.2,949.8 966.4,947.8 971.7,936.1 977,927.4 982.2,925.4 987.5,926 992.8,929.7 998,924.9 1003.3,918.8 1008.5,920.8 1013.8,923.4 1019.1,918.3 1024.3,920.3 1029.6,917.6 1034.9,917.1 1040.1,911.9 1045.4,911.1 1050.6,910.3 1055.9,907.3 1061.2,905.9 1066.4,904.6 1071.7,903.3 1077,910 1082.2,909.6 1087.5,905.5 1092.7,907.2 1098,908.1 1103.3,920 1108.5,922.6 1113.8,929.2 1119.1,933.2 1124.3,938.5 1129.6,948.4 1134.8,958.4 1140.1,970.7 1145.4,982.4 1150.6,1006.9 1155.9,1020.9 1161.2,1038.7 1166.4,1050.9 1171.7,1057.5 1177,1065.6 1182.2,1069 1187.5,1072.7 1192.7,1073.8 1198,1078.2 1203.3,1080 1208.5,1083.6 1213.8,1080.6 1219.1,1078.4 1224.3,1080.7 1229.6,1080.1 1234.8,1083.1 1240.1,1087.6 1245.4,1090.4 1250.6,1086.3 1255.9,1082.8 1261.2,1085.2 1266.4,1083.1 1271.7,1084.4 1276.9,1086.3 1282.2,1087.7 1287.5,1091.8 1292.7,1090.3 1298,1091.4 1303.3,1090.2 1308.5,1087.2 1313.8,1083 1319,1082.6 1320.9,1083.5" fill="none" stroke="#000080" stroke-width="3" stroke-linejoin="round"/>
<rect x="240.6" y="1065.9" width="8.2" height="8.2"/>
<rect x="241.3" y="1065.4" width="8.2" height="8.2"/>
<rect x="246.6" y="1069.9" width="8.2" height="8.2"/>
<rect x="251.9" y="1072.3" width="8.2" height="8.2"/>
<rect x="257.1" y="1074.9" width="8.2" height="8.2"/>
<rect x="262.4" y="998.9" width="8.2" height="8.2"/>
<rect x="267.6" y="947.2" width="8.2" height="8.2"/>
<rect x="272.9" y="935.8" width="8.2" height="8.2"/>
<rect x="278.2" y="943.5" width="8.2" height="8.2"/>
<rect x="283.4" y="956.8" width="8.2" height="8.2"/>
<rect x="288.7" y="965.6" width="8.2" height="8.2"/>
<rect x="294" y="972.8" width="8.2" height="8.2"/>
<rect x="299.2" y="970.6" width="8.2" height="8.2"/>
<rect x="304.5" y="967.1" width="8.2" height="8.2"/>
<rect x="309.7" y="947.9" width="8.2" height="8.2"/>
<rect x="315" y="939.2" width="8.2" height="8.2"/>
<rect x="320.3" y="930.9" width="8.2" height="8.2"/>
<rect x="325.5" y="926.1" width="8.2" height="8.2"/>
<rect x="330.8" y="924.9" width="8.2" height="8.2"/>
<rect x="336.1" y="926.7" width="8.2" height="8.2"/>
<rect x="341.3" y="931.6" width="8.2" height="8.2"/>
<rect x="346.6" y="931.5" width="8.2" height="8.2"/>
<rect x="351.8" y="930.7" width="8.2" height="8.2"/>
<rect x="357.1" y="926.9" width="8.2" height="8.2"/>
<rect x="362.4" y="920.5" width="8.2" height="8.2"/>
<rect x="367.6" y="913.4" width="8.2" height="8.2"/>
<rect x="372.9" y="903.1" width="8.2" height="8.2"/>
<rect x="378.2" y="893" width="8.2" height="8.2"/>
<rect x="383.4" y="889.2" width="8.2" height="8.2"/>
<rect x="388.7" y="894.7" width="8.2" height="8.2"/>
<rect x="393.9" y="903.9" width="8.2" height="8.2"/>
<rect x="399.2" y="912.3" width="8.2" height="8.2"/>
<rect x="404.5" y="922.1" width="8.2" height="8.2"/>
<rect x="409.7" y="929.5" width="8.2" height="8.2"/>
<rect x="415" y="936" width="8.2" height="8.2"/>
<rect x="420.3" y="942.2" width="8.2" height="8.2"/>
<rect x="425.5" y="947.7" width="8.2" height="8.2"/>
<rect x="430.8" y="956.2" width="8.2" height="8.2"/>
<rect x="436.1" y="961.2" width="8.2" height="8.2"/>
<rect x="441.3" y="960.1" width="8.2" height="8.2"/>
<rect x="446.6" y="957.4" width="8.2" height="8.2"/>
<rect x="451.8" y="955.8" width="8.2" height="8.2"/>
<rect x="457.1" y="957" width="8.2" height="8.2"/>
<rect x="462.4" y="959.2" width="8.2" height="8.2"/>
<rect x="467.6" y="964.8" width="8.2" height="8.2"/>
<rect x="472.9" y="964.7" width="8.2" height="8.2"/>
<rect x="478.2" y="964.5" width="8.2" height="8.2"/>
<rect x="483.4" y="963" width="8.2" height="8.2"/>
<rect x="488.7" y="961.9" width="8.2" height="8.2"/>
<rect x="493.9" y="958.2" width="8.2" height="8.2"/>
<rect x="499.2" y="955.4" width="8.2" height="8.2"/>
<rect x="504.5" y="952.7" width="8.2" height="8.2"/>
<rect x="509.7" y="949.3" width="8.2" height="8.2"/>
<rect x="515" y="945.7" width="8.2" height="8.2"/>
<rect x="520.3" y="944.4" width="8.2" height="8.2"/>
<rect x="525.5" y="940.8" width="8.2" height="8.2"/>
<rect x="530.8" y="937.4" width="8.2" height="8.2"/>
<rect x="536" y="933.9" width="8.2" height="8.2"/>
<rect x="541.3" y="930.9" width="8.2" height="8.2"/>
<rect x="546.6" y="925.9" width="8.2" height="8.2"/>
<rect x="551.8" y="924" width="8.2" height="8.2"/>
<rect x="557.1" y="919.8" width="8.2" height="8.2"/>
<rect x="562.4" y="910.3" width="8.2" height="8.2"/>
<rect x="567.6" y="903.9" width="8.2" height="8.2"/>
<rect x="572.9" y="896.9" width="8.2" height="8.2"/>
<rect x="578.1" y="899.5" width="8.2" height="8.2"/>
<rect x="583.4" y="900.1" width="8.2" height="8.2"/>
<rect x="588.7" y="896.5" width="8.2" height="8.2"/>
<rect x="593.9" y="906.9" width="8.2" height="8.2"/>
<rect x="599.2" y="914.5" width="8.2" height="8.2"/>
<rect x="604.5" y="919.7" width="8.2" height="8.2"/>
<rect x="609.7" y="925.9" width="8.2" height="8.2"/>
<rect x="615" y="933" width="8.2" height="8.2"/>
<rect x="620.3" y="940.9" width="8.2" height="8.2"/>
<rect x="625.5" y="948.6" width="8.2" height="8.2"/>
<rect x="630.8" y="956.5" width="8.2" height="8.2"/>
<rect x="636" y="969.9" width="8.2" height="8.2"/>
<rect x="641.3" y="979.2" width="8.2" height="8.2"/>
<rect x="646.6" y="986.5" width="8.2" height="8.2"/>
<rect x="651.8" y="990.4" width="8.2" height="8.2"/>
<rect x="657.1" y="999.6" width="8.2" height="8.2"/>
<rect x="662.4" y="1004.6" width="8.2" height="8.2"/>
<rect x="667.6" y="1011.3" width="8.2" height="8.2"/>
<rect x="672.9" y="1015.8" width="8.2" height="8.2"/>
<rect x="678.1" y="1022.1" width="8.2" height="8.2"/>
<rect x="683.4" y="1026.4" width="8.2" height="8.2"/>
<rect x="688.7" y="1031.3" width="8.2" height="8.2"/>
<rect x="693.9" y="1035.7" width="8.2" height="8.2"/>
<rect x="699.2" y="1042.4" width="8.2" height="8.2"/>
<rect x="704.5" y="1046.2" width="8.2" height="8.2"/>
<rect x="709.7" y="1050.2" width="8.2" height="8.2"/>
<rect x="715" y="1052" width="8.2" height="8.2"/>
<rect x="720.2" y="1051.8" width="8.2" height="8.2"/>
<rect x="725.5" y="1049.2" width="8.2" height="8.2"/>
<rect x="730.8" y="1050.3" width="8.2" height="8.2"/>
<rect x="736" y="1050.4" width="8.2" height="8.2"/>
<rect x="741.3" y="1053.2" width="8.2" height="8.2"/>
<rect x="746.6" y="1053.6" width="8.2" height="8.2"/>
<rect x="751.8" y="1054.8" width="8.2" height="8.2"/>
<rect x="757.1" y="1055.1" width="8.2" height="8.2"/>
<rect x="762.3" y="1057.4" width="8.2" height="8.2"/>
<rect x="767.6" y="1057" width="8.2" height="8.2"/>
<rect x="772.9" y="1056.2" width="8.2" height="8.2"/>
<rect x="778.1" y="1056" width="8.2" height="8.2"/>
<rect x="783.4" y="1059.1" width="8.2" height="8.2"/>
<rect x="788.7" y="1054.4" width="8.2" height="8.2"/>
<rect x="793.9" y="1053.5" width="8.2" height="8.2"/>
<rect x="799.2" y="1050.7" width="8.2" height="8.2"/>
<rect x="804.5" y="1049.3" width="8.2" height="8.2"/>
<rect x="809.7" y="1044.8" width="8.2" height="8.2"/>
<rect x="815" y="1044.1" width="8.2" height="8.2"/>
<rect x="820.2" y="1042" width="8.2" height="8.2"/>
<rect x="825.5" y="1041.8" width="8.2" height="8.2"/>
<rect x="830.8" y="1036.7" width="8.2" height="8.2"/>
<rect x="836" y="1035.2" width="8.2" height="8.2"/>
<rect x="841.3" y="1033.2" width="8.2" height="8.2"/>
<rect x="846.6" y="1032.2" width="8.2" height="8.2"/>
<rect x="851.8" y="1026.6" width="8.2" height="8.2"/>
<rect x="857.1" y="1022.5" width="8.2" height="8.2"/>
<rect x="862.3" y="1019.3" width="8.2" height="8.2"/>
<rect x="867.6" y="1013.8" width="8.2" height="8.2"/>
<rect x="872.9" y="1008.6" width="8.2" height="8.2"/>
<rect x="878.1" y="1004.6" width="8.2" height="8.2"/>
<rect x="883.4" y="998.4" width="8.2" height="8.2"/>
<rect x="888.7" y="994.6" width="8.2" height="8.2"/>
<rect x="893.9" y="989.6" width="8.2" height="8.2"/>
<rect x="899.2" y="986.7" width="8.2" height="8.2"/>
<rect x="904.4" y="985" width="8.2" height="8.2"/>
<rect x="909.7" y="980.6" width="8.2" height="8.2"/>
<rect x="915" y="977.8" width="8.2" height="8.2"/>
<rect x="920.2" y="971.7" width="8.2" height="8.2"/>
<rect x="925.5" y="966.1" width="8.2" height="8.2"/>
<rect x="930.8" y="961" width="8.2" height="8.2"/>
<rect x="936" y="954.2" width="8.2" height="8.2"/>
<rect x="941.3" y="948" width="8.2" height="8.2"/>
<rect x="946.5" y="944.1" width="8.2" height="8.2"/>
<rect x="951.8" y="950.6" width="8.2" height="8.2"/>
<rect x="957.1" y="945.7" width="8.2" height="8.2"/>
<rect x="962.3" y="943.7" width="8.2" height="8.2"/>
<rect x="967.6" y="932" width="8.2" height="8.2"/>
<rect x="972.9" y="923.3" width="8.2" height="8.2"/>
<rect x="978.1" y="921.3" width="8.2" height="8.2"/>
<rect x="983.4" y="921.9" width="8.2" height="8.2"/>
<rect x="988.7" y="925.6" width="8.2" height="8.2"/>
<rect x="993.9" y="920.8" width="8.2" height="8.2"/>
<rect x="999.2" y="914.7" width="8.2" height="8.2"/>
<rect x="1004.4" y="916.7" width="8.2" height="8.2"/>
<rect x="1009.7" y="919.3" width="8.2" height="8.2"/>
<rect x="1015" y="914.2" width="8.2" height="8.2"/>
<rect x="1020.2" y="916.2" width="8.2" height="8.2"/>
<rect x="1025.5" y="913.5" width="8.2" height="8.2"/>
<rect x="1030.8" y="913" width="8.2" height="8.2"/>
<rect x="1036" y="907.8" width="8.2" height="8.2"/>
<rect x="1041.3" y="907" width="8.2" height="8.2"/>
<rect x="1046.5" y="906.2" width="8.2" height="8.2"/>
<rect x="1051.8" y="903.2" width="8.2" height="8.2"/>
<rect x="1057.1" y="901.8" width="8.2" height="8.2"/>
<rect x="1062.3" y="900.5" width="8.2" height="8.2"/>
<rect x="1067.6" y="899.2" width="8.2" height="8.2"/>
<rect x="1072.9" y="905.9" width="8.2" height="8.2"/>
<rect x="1078.1" y="905.5" width="8.2" height="8.2"/>
<rect x="1083.4" y="901.4" width="8.2" height="8.2"/>
<rect x="1088.6" y="903.1" width="8.2" height="8.2"/>
<rect x="1093.9" y="904" width="8.2" height="8.2"/>
<rect x="1099.2" y="915.9" width="8.2" height="8.2"/>
<rect x="1104.4" y="918.5" width="8.2" height="8.2"/>
<rect x="1109.7" y="925.1" width="8.2" height="8.2"/>
<rect x="1115" y="929.1" width="8.2" height="8.2"/>
<rect x="1120.2" y="934.4" width="8.2" height="8.2"/>
<rect x="1125.5" y="944.3" width="8.2" height="8.2"/>
<rect x="1130.7" y="954.3" width="8.2" height="8.2"/>
<rect x="1136" y="966.6" width="8.2" height="8.2"/>
<rect x="1141.3" y="978.3" width="8.2" height="8.2"/>
<rect x="1146.5" y="1002.8" width="8.2" height="8.2"/>
<rect x="1151.8" y="1016.8" width="8.2" height="8.2"/>
<rect x="1157.1" y="1034.6" width="8.2" height="8.2"/>
<rect x="1162.3" y="1046.8" width="8.2" height="8.2"/>
<rect x="1167.6" y="1053.4" width="8.2" height="8.2"/>
<rect x="1172.9" y="1061.5" width="8.2" height="8.2"/>
<rect x="1178.1" y="1064.9" width="8.2" height="8.2"/>
<rect x="1183.4" y="1068.6" width="8.2" height="8.2"/>
<rect x="1188.6" y="1069.7" width="8.2" height="8.2"/>
<rect x="1193.9" y="1074.1" width="8.2" height="8.2"/>
<rect x="1199.2" y="1075.9" width="8.2" height="8.2"/>
<rect x="1204.4" y="1079.5" width="8.2" height="8.2"/>
<rect x="1209.7" y="1076.5" width="8.2" height="8.2"/>
<rect x="1215" y="1074.3" width="8.2" height="8.2"/>
<rect x="1220.2" y="1076.6" width="8.2" height="8.2"/>
<rect x="1225.5" y="1076" width="8.2" height="8.2"/>
<rect x="1230.7" y="1079" width="8.2" height="8.2"/>
<rect x="1236" y="1083.5" width="8.2" height="8.2"/>
<rect x="1241.3" y="1086.3" width="8.2" height="8.2"/>
<rect x="1246.5" y="1082.2" width="8.2" height="8.2"/>
<rect x="1251.8" y="1078.7" width="8.2" height="8.2"/>
<rect x="1257.1" y="1081.1" width="8.2" height="8.2"/>
<rect x="1262.3" y="1079" width="8.2" height="8.2"/>
<rect x="1267.6" y="1080.3" width="8.2" height="8.2"/>
<rect x="1272.8" y="1082.2" width="8.2" height="8.2"/>
<rect x="1278.1" y="1083.6" width="8.2" height="8.2"/>
<rect x="1283.4" y="1087.7" width="8.2" height="8.2"/>
<rect x="1288.6" y="1086.2" width="8.2" height="8.2"/>
<rect x="1293.9" y="1087.3" width="8.2" height="8.2"/>
<rect x="1299.2" y="1086.1" width="8.2" height="8.2"/>
<rect x="1304.4" y="1083.1" width="8.2" height="8.2"/>
<rect x="1309.7" y="1078.9" width="8.2" height="8.2"/>
<rect x="1314.9" y="1078.5" width="8.2" height="8.2"/>
<rect x="1316.8" y="1079.4" width="8.2" height="8.2"/>
</g>
<g fill="#00ff00">
<polyline points="242.8,1075 245.4,1075 250.7,1080 256,1080.6 261.2,1079.4 266.5,1052.3 271.7,990.2 277,948.2 282.3,941.4 287.5,971.6 292.8,989.5 298.1,995.1 303.3,995.6 308.6,988.5 313.8,982.6 319.1,977.1 324.4,965.3 329.6,953 334.9,944.3 340.2,934.2 345.4,923.3 350.7,915.6 355.9,919.4 361.2,923.5 366.5,932.6 371.7,935.4 377,941 382.3,950.6 387.5,958.9 392.8,964.8 398,964.1 403.3,966.2 408.6,962 413.8,959.6 419.1,958 424.4,955.8 429.6,952.2 434.9,953.7 440.2,953.9 445.4,952.1 450.7,950.3 455.9,951.7 461.2,948.9 466.5,946.2 471.7,945.4 477,941.9 482.3,941.4 487.5,938.5 492.8,936 498,941 503.3,940.8 508.6,945.4 513.8,949.2 519.1,955.7 524.4,950.8 529.6,949.7 534.9,945.5 540.1,944.3 545.4,946.5 550.7,948.1 555.9,951.9 561.2,956.3 566.5,960.8 571.7,966.1 577,965.1 582.2,960.7 587.5,954 592.8,950.5 598,951.6 603.3,953.8 608.6,959.4 613.8,958.6 619.1,955.2 624.4,951.8 629.6,956.3 634.9,959.1 640.1,961.3 645.4,969.5 650.7,977.3 655.9,983.9 661.2,986.7 666.5,992.1 671.7,996.3 677,1002.1 682.2,1005.8 687.5,1009.3 692.8,1016.4 698,1023.2 703.3,1031.6 708.6,1039.8 713.8,1043.6 719.1,1047.4 724.3,1053.5 729.6,1055.2 734.9,1059.8 740.1,1063.4 745.4,1062.1 750.7,1060.8 755.9,1066.2 761.2,1072.6 766.4,1071.9 771.7,1073.4 777,1075.3 782.2,1077 787.5,1075.2 792.8,1077 798,1075.1 803.3,1075.3 808.6,1074.9 813.8,1076.6 819.1,1076.4 824.3,1076 829.6,1077.5 834.9,1075.8 840.1,1075.9 845.4,1078 850.7,1077.7 855.9,1079.8 861.2,1079.2 866.4,1078 871.7,1073.6 877,1068.9 882.2,1069.1 887.5,1068.8 892.8,1069.7 898,1070.9 903.3,1070.6 908.5,1069.4 913.8,1069.7 919.1,1064.8 924.3,1062.3 929.6,1060.2 934.9,1057.9 940.1,1054.6 945.4,1054.9 950.6,1052.3 955.9,1052.1 961.2,1050.1 966.4,1046.8 971.7,1045.6 977,1044.6 982.2,1045.9 987.5,1042.5 992.8,1043.1 998,1039.5 1003.3,1037.5 1008.5,1034.1 1013.8,1029.8 1019.1,1029 1024.3,1026.2 1029.6,1024.1 1034.9,1022.2 1040.1,1023.5 1045.4,1023 1050.6,1019.9 1055.9,1019.2 1061.2,1018.2 1066.4,1014.7 1071.7,1015.7 1077,1014.6 1082.2,1011.3 1087.5,1007.6 1092.7,1008.3 1098,1004.6 1103.3,1004.5 1108.5,1002.4 1113.8,1000.6 1119.1,999.4 1124.3,994.7 1129.6,995.7 1134.8,992.4 1140.1,990.2 1145.4,989.7 1150.6,989.8 1155.9,987 1161.2,988 1166.4,989 1171.7,987.9 1177,988 1182.2,987.2 1187.5,988.5 1192.7,984.7 1198,985.1 1203.3,984.3 1208.5,982.6 1213.8,986.9 1219.1,984.6 1224.3,982 1229.6,984.2 1234.8,987.6 1240.1,989.6 1245.4,989.2 1250.6,987.3 1255.9,985.2 1261.2,987.9 1266.4,985.2 1271.7,986.1 1276.9,989.5 1282.2,988.4 1287.5,987.5 1292.7,987.9 1298,985.9 1303.3,988.6 1308.5,988.8 1313.8,992.1 1319,990.3 1324.3,988.5 1329.6,986 1334.8,987.1 1340.1,986.1 1345.4,987.1 1350.6,988.1 1355.9,986.1 1361.2,985.4 1366.4,988.9 1371.7,994.1 1376.9,989.2 1382.2,986.8 1387.5,991.6 1392.7,994.2 1398,993.9 1403.3,993.2 1408.5,993.4 1413.8,997.6 1419,997.3 1424.3,998.4 1429.6,1002.5 1434.8,1002.8 1440.1,1007 1445.4,1015.3 1450.6,1017.6 1455.9,1019.7 1461.1,1025.1 1466.4,1029 1471.7,1033.6 1476.9,1040.7 1482.2,1044.8 1487.5,1049.6 1492.7,1052.2 1498,1057.4 1503.2,1062.8 1508.5,1066 1513.8,1070.3 1519,1073 1524.3,1076.7 1529.6,1077.9 1534.8,1079.8 1540.1,1082.1 1545.4,1081.3 1550.6,1081.2 1555.9,1083.2 1561.1,1081.7 1566.4,1083.9 1571.7,1081.5 1576.9,1083.7 1582.2,1083.8 1587.5,1083.8 1592.7,1085.9 1598,1086 1603.2,1085.2 1608.5,1086.2 1613.8,1085.8 1619,1088.4 1624.3,1086.3 1629.6,1089.4 1634.8,1087.5 1639.5,1090" fill="none" stroke="#00ff00" stroke-width="3" stroke-linejoin="round"/>
<rect x="238.7" y="1070.9" width="8.2" height="8.2"/>
<rect x="241.3" y="1070.9" width="8.2" height="8.2"/>
<rect x="246.6" y="1075.9" width="8.2" height="8.2"/>
<rect x="251.9" y="1076.5" width="8.2" height="8.2"/>
<rect x="257.1" y="1075.3" width="8.2" height="8.2"/>
<rect x="262.4" y="1048.2" width="8.2" height="8.2"/>
<rect x="267.6" y="986.1" width="8.2" height="8.2"/>
<rect x="272.9" y="944.1" width="8.2" height="8.2"/>
<rect x="278.2" y="937.3" width="8.2" height="8.2"/>
<rect x="283.4" y="967.5" width="8.2" height="8.2"/>
<rect x="288.7" y="985.4" width="8.2" height="8.2"/>
<rect x="294" y="991" width="8.2" height="8.2"/>
<rect x="299.2" y="991.5" width="8.2" height="8.2"/>
<rect x="304.5" y="984.4" width="8.2" height="8.2"/>
<rect x="309.7" y="978.5" width="8.2" height="8.2"/>
<rect x="315" y="973" width="8.2" height="8.2"/>
<rect x="320.3" y="961.2" width="8.2" height="8.2"/>
<rect x="325.5" y="948.9" width="8.2" height="8.2"/>
<rect x="330.8" y="940.2" width="8.2" height="8.2"/>
<rect x="336.1" y="930.1" width="8.2" height="8.2"/>
<rect x="341.3" y="919.2" width="8.2" height="8.2"/>
<rect x="346.6" y="911.5" width="8.2" height="8.2"/>
<rect x="351.8" y="915.3" width="8.2" height="8.2"/>
<rect x="357.1" y="919.4" width="8.2" height="8.2"/>
<rect x="362.4" y="928.5" width="8.2" height="8.2"/>
<rect x="367.6" y="931.3" width="8.2" height="8.2"/>
<rect x="372.9" y="936.9" width="8.2" height="8.2"/>
<rect x="378.2" y="946.5" width="8.2" height="8.2"/>
<rect x="383.4" y="954.8" width="8.2" height="8.2"/>
<rect x="388.7" y="960.7" width="8.2" height="8.2"/>
<rect x="393.9" y="960" width="8.2" height="8.2"/>
<rect x="399.2" y="962.1" width="8.2" height="8.2"/>
<rect x="404.5" y="957.9" width="8.2" height="8.2"/>
<rect x="409.7" y="955.5" width="8.2" height="8.2"/>
<rect x="415" y="953.9" width="8.2" height="8.2"/>
<rect x="420.3" y="951.7" width="8.2" height="8.2"/>
<rect x="425.5" y="948.1" width="8.2" height="8.2"/>
<rect x="430.8" y="949.6" width="8.2" height="8.2"/>
<rect x="436.1" y="949.8" width="8.2" height="8.2"/>
<rect x="441.3" y="948" width="8.2" height="8.2"/>
<rect x="446.6" y="946.2" width="8.2" height="8.2"/>
<rect x="451.8" y="947.6" width="8.2" height="8.2"/>
<rect x="457.1" y="944.8" width="8.2" height="8.2"/>
<rect x="462.4" y="942.1" width="8.2" height="8.2"/>
<rect x="467.6" y="941.3" width="8.2" height="8.2"/>
<rect x="472.9" y="937.8" width="8.2" height="8.2"/>
<rect x="478.2" y="937.3" width="8.2" height="8.2"/>
<rect x="483.4" y="934.4" width="8.2" height="8.2"/>
<rect x="488.7" y="931.9" width="8.2" height="8.2"/>
<rect x="493.9" y="936.9" width="8.2" height="8.2"/>
<rect x="499.2" y="936.7" width="8.2" height="8.2"/>
<rect x="504.5" y="941.3" width="8.2" height="8.2"/>
<rect x="509.7" y="945.1" width="8.2" height="8.2"/>
<rect x="515" y="951.6" width="8.2" height="8.2"/>
<rect x="520.3" y="946.7" width="8.2" height="8.2"/>
<rect x="525.5" y="945.6" width="8.2" height="8.2"/>
<rect x="530.8" y="941.4" width="8.2" height="8.2"/>
<rect x="536" y="940.2" width="8.2" height="8.2"/>
<rect x="541.3" y="942.4" width="8.2" height="8.2"/>
<rect x="546.6" y="944" width="8.2" height="8.2"/>
<rect x="551.8" y="947.8" width="8.2" height="8.2"/>
<rect x="557.1" y="952.2" width="8.2" height="8.2"/>
<rect x="562.4" y="956.7" width="8.2" height="8.2"/>
<rect x="567.6" y="962" width="8.2" height="8.2"/>
<rect x="572.9" y="961" width="8.2" height="8.2"/>
<rect x="578.1" y="956.6" width="8.2" height="8.2"/>
<rect x="583.4" y="949.9" width="8.2" height="8.2"/>
<rect x="588.7" y="946.4" width="8.2" height="8.2"/>
<rect x="593.9" y="947.5" width="8.2" height="8.2"/>
<rect x="599.2" y="949.7" width="8.2" height="8.2"/>
<rect x="604.5" y="955.3" width="8.2" height="8.2"/>
<rect x="609.7" y="954.5" width="8.2" height="8.2"/>
<rect x="615" y="951.1" width="8.2" height="8.2"/>
<rect x="620.3" y="947.7" width="8.2" height="8.2"/>
<rect x="625.5" y="952.2" width="8.2" height="8.2"/>
<rect x="630.8" y="955" width="8.2" height="8.2"/>
<rect x="636" y="957.2" width="8.2" height="8.2"/>
<rect x="641.3" y="965.4" width="8.2" height="8.2"/>
<rect x="646.6" y="973.2" width="8.2" height="8.2"/>
<rect x="651.8" y="979.8" width="8.2" height="8.2"/>
<rect x="657.1" y="982.6" width="8.2" height="8.2"/>
<rect x="662.4" y="988" width="8.2" height="8.2"/>
<rect x="667.6" y="992.2" width="8.2" height="8.2"/>
<rect x="672.9" y="998" width="8.2" height="8.2"/>
<rect x="678.1" y="1001.7" width="8.2" height="8.2"/>
<rect x="683.4" y="1005.2" width="8.2" height="8.2"/>
<rect x="688.7" y="1012.3" width="8.2" height="8.2"/>
<rect x="693.9" y="1019.1" width="8.2" height="8.2"/>
<rect x="699.2" y="1027.5" width="8.2" height="8.2"/>
<rect x="704.5" y="1035.7" width="8.2" height="8.2"/>
<rect x="709.7" y="1039.5" width="8.2" height="8.2"/>
<rect x="715" y="1043.3" width="8.2" height="8.2"/>
<rect x="720.2" y="1049.4" width="8.2" height="8.2"/>
<rect x="725.5" y="1051.1" width="8.2" height="8.2"/>
<rect x="730.8" y="1055.7" width="8.2" height="8.2"/>
<rect x="736" y="1059.3" width="8.2" height="8.2"/>
<rect x="741.3" y="1058" width="8.2" height="8.2"/>
<rect x="746.6" y="1056.7" width="8.2" height="8.2"/>
<rect x="751.8" y="1062.1" width="8.2" height="8.2"/>
<rect x="757.1" y="1068.5" width="8.2" height="8.2"/>
<rect x="762.3" y="1067.8" width="8.2" height="8.2"/>
<rect x="767.6" y="1069.3" width="8.2" height="8.2"/>
<rect x="772.9" y="1071.2" width="8.2" height="8.2"/>
<rect x="778.1" y="1072.9" width="8.2" height="8.2"/>
<rect x="783.4" y="1071.1" width="8.2" height="8.2"/>
<rect x="788.7" y="1072.9" width="8.2" height="8.2"/>
<rect x="793.9" y="1071" width="8.2" height="8.2"/>
<rect x="799.2" y="1071.2" width="8.2" height="8.2"/>
<rect x="804.5" y="1070.8" width="8.2" height="8.2"/>
<rect x="809.7" y="1072.5" width="8.2" height="8.2"/>
<rect x="815" y="1072.3" width="8.2" height="8.2"/>
<rect x="820.2" y="1071.9" width="8.2" height="8.2"/>
<rect x="825.5" y="1073.4" width="8.2" height="8.2"/>
<rect x="830.8" y="1071.7" width="8.2" height="8.2"/>
<rect x="836" y="1071.8" width="8.2" height="8.2"/>
<rect x="841.3" y="1073.9" width="8.2" height="8.2"/>
<rect x="846.6" y="1073.6" width="8.2" height="8.2"/>
<rect x="851.8" y="1075.7" width="8.2" height="8.2"/>
<rect x="857.1" y="1075.1" width="8.2" height="8.2"/>
<rect x="862.3" y="1073.9" width="8.2" height="8.2"/>
<rect x="867.6" y="1069.5" width="8.2" height="8.2"/>
<rect x="872.9" y="1064.8" width="8.2" height="8.2"/>
<rect x="878.1" y="1065" width="8.2" height="8.2"/>
<rect x="883.4" y="1064.7" width="8.2" height="8.2"/>
<rect x="888.7" y="1065.6" width="8.2" height="8.2"/>
<rect x="893.9" y="1066.8" width="8.2" height="8.2"/>
<rect x="899.2" y="1066.5" width="8.2" height="8.2"/>
<rect x="904.4" y="1065.3" width="8.2" height="8.2"/>
<rect x="909.7" y="1065.6" width="8.2" height="8.2"/>
<rect x="915" y="1060.7" width="8.2" height="8.2"/>
<rect x="920.2" y="1058.2" width="8.2" height="8.2"/>
<rect x="925.5" y="1056.1" width="8.2" height="8.2"/>
<rect x="930.8" y="1053.8" width="8.2" height="8.2"/>
<rect x="936" y="1050.5" width="8.2" height="8.2"/>
<rect x="941.3" y="1050.8" width="8.2" height="8.2"/>
<rect x="946.5" y="1048.2" width="8.2" height="8.2"/>
<rect x="951.8" y="1048" width="8.2" height="8.2"/>
<rect x="957.1" y="1046" width="8.2" height="8.2"/>
<rect x="962.3" y="1042.7" width="8.2" height="8.2"/>
<rect x="967.6" y="1041.5" width="8.2" height="8.2"/>
<rect x="972.9" y="1040.5" width="8.2" height="8.2"/>
<rect x="978.1" y="1041.8" width="8.2" height="8.2"/>
<rect x="983.4" y="1038.4" width="8.2" height="8.2"/>
<rect x="988.7" y="1039" width="8.2" height="8.2"/>
<rect x="993.9" y="1035.4" width="8.2" height="8.2"/>
<rect x="999.2" y="1033.4" width="8.2" height="8.2"/>
<rect x="1004.4" y="1030" width="8.2" height="8.2"/>
<rect x="1009.7" y="1025.7" width="8.2" height="8.2"/>
<rect x="1015" y="1024.9" width="8.2" height="8.2"/>
<rect x="1020.2" y="1022.1" width="8.2" height="8.2"/>
<rect x="1025.5" y="1020" width="8.2" height="8.2"/>
<rect x="1030.8" y="1018.1" width="8.2" height="8.2"/>
<rect x="1036" y="1019.4" width="8.2" height="8.2"/>
<rect x="1041.3" y="1018.9" width="8.2" height="8.2"/>
<rect x="1046.5" y="1015.8" width="8.2" height="8.2"/>
<rect x="1051.8" y="1015.1" width="8.2" height="8.2"/>
<rect x="1057.1" y="1014.1" width="8.2" height="8.2"/>
<rect x="1062.3" y="1010.6" width="8.2" height="8.2"/>
<rect x="1067.6" y="1011.6" width="8.2" height="8.2"/>
<rect x="1072.9" y="1010.5" width="8.2" height="8.2"/>
<rect x="1078.1" y="1007.2" width="8.2" height="8.2"/>
<rect x="1083.4" y="1003.5" width="8.2" height="8.2"/>
<rect x="1088.6" y="1004.2" width="8.2" height="8.2"/>
<rect x="1093.9" y="1000.5" width="8.2" height="8.2"/>
<rect x="1099.2" y="1000.4" width="8.2" height="8.2"/>
<rect x="1104.4" y="998.3" width="8.2" height="8.2"/>
<rect x="1109.7" y="996.5" width="8.2" height="8.2"/>
<rect x="1115" y="995.3" width="8.2" height="8.2"/>
<rect x="1120.2" y="990.6" width="8.2" height="8.2"/>
<rect x="1125.5" y="991.6" width="8.2" height="8.2"/>
<rect x="1130.7" y="988.3" width="8.2" height="8.2"/>
<rect x="1136" y="986.1" width="8.2" height="8.2"/>
<rect x="1141.3" y="985.6" width="8.2" height="8.2"/>
<rect x="1146.5" y="985.7" width="8.2" height="8.2"/>
<rect x="1151.8" y="982.9" width="8.2" height="8.2"/>
<rect x="1157.1" y="983.9" width="8.2" height="8.2"/>
<rect x="1162.3" y="984.9" width="8.2" height="8.2"/>
<rect x="1167.6" y="983.8" width="8.2" height="8.2"/>
<rect x="1172.9" y="983.9" width="8.2" height="8.2"/>
<rect x="1178.1" y="983.1" width="8.2" height="8.2"/>
<rect x="1183.4" y="984.4" width="8.2" height="8.2"/>
<rect x="1188.6" y="980.6" width="8.2" height="8.2"/>
<rect x="1193.9" y="981" width="8.2" height="8.2"/>
<rect x="1199.2" y="980.2" width="8.2" height="8.2"/>
<rect x="1204.4" y="978.5" width="8.2" height="8.2"/>
<rect x="1209.7" y="982.8" width="8.2" height="8.2"/>
<rect x="1215" y="980.5" width="8.2" height="8.2"/>
<rect x="1220.2" y="977.9" width="8.2" height="8.2"/>
<rect x="1225.5" y="980.1" width="8.2" height="8.2"/>
<rect x="1230.7" y="983.5" width="8.2" height="8.2"/>
<rect x="1236" y="985.5" width="8.2" height="8.2"/>
<rect x="1241.3" y="985.1" width="8.2" height="8.2"/>
<rect x="1246.5" y="983.2" width="8.2" height="8.2"/>
<rect x="1251.8" y="981.1" width="8.2" height="8.2"/>
<rect x="1257.1" y="983.8" width="8.2" height="8.2"/>
<rect x="1262.3" y="981.1" width="8.2" height="8.2"/>
<rect x="1267.6" y="982" width="8.2" height="8.2"/>
<rect x="1272.8" y="985.4" width="8.2" height="8.2"/>
<rect x="1278.1" y="984.3" width="8.2" height="8.2"/>
<rect x="1283.4" y="983.4" width="8.2" height="8.2"/>
<rect x="1288.6" y="983.8" width="8.2" height="8.2"/>
<rect x="1293.9" y="981.8" width="8.2" height="8.2"/>
<rect x="1299.2" y="984.5" width="8.2" height="8.2"/>
<rect x="1304.4" y="984.7" width="8.2" height="8.2"/>
<rect x="1309.7" y="988" width="8.2" height="8.2"/>
<rect x="1314.9" y="986.2" width="8.2" height="8.2"/>
<rect x="1320.2" y="984.4" width="8.2" height="8.2"/>
<rect x="1325.5" y="981.9" width="8.2" height="8.2"/>
<rect x="1330.7" y="983" width="8.2" height="8.2"/>
<rect x="1336" y="982" width="8.2" height="8.2"/>
<rect x="1341.3" y="983" width="8.2" height="8.2"/>
<rect x="1346.5" y="984" width="8.2" height="8.2"/>
<rect x="1351.8" y="982" width="8.2" height="8.2"/>
<rect x="1357.1" y="981.3" width="8.2" height="8.2"/>
<rect x="1362.3" y="984.8" width="8.2" height="8.2"/>
<rect x="1367.6" y="990" width="8.2" height="8.2"/>
<rect x="1372.8" y="985.1" width="8.2" height="8.2"/>
<rect x="1378.1" y="982.7" width="8.2" height="8.2"/>
<rect x="1383.4" y="987.5" width="8.2" height="8.2"/>
<rect x="1388.6" y="990.1" width="8.2" height="8.2"/>
<rect x="1393.9" y="989.8" width="8.2" height="8.2"/>
<rect x="1399.2" y="989.1" width="8.2" height="8.2"/>
<rect x="1404.4" y="989.3" width="8.2" height="8.2"/>
<rect x="1409.7" y="993.5" width="8.2" height="8.2"/>
<rect x="1414.9" y="993.2" width="8.2" height="8.2"/>
<rect x="1420.2" y="994.3" width="8.2" height="8.2"/>
<rect x="1425.5" y="998.4" width="8.2" height="8.2"/>
<rect x="1430.7" y="998.7" width="8.2" height="8.2"/>
<rect x="1436" y="1002.9" width="8.2" height="8.2"/>
<rect x="1441.3" y="1011.2" width="8.2" height="8.2"/>
<rect x="1446.5" y="1013.5" width="8.2" height="8.2"/>
<rect x="1451.8" y="1015.6" width="8.2" height="8.2"/>
<rect x="1457" y="1021" width="8.2" height="8.2"/>
<rect x="1462.3" y="1024.9" width="8.2" height="8.2"/>
<rect x="1467.6" y="1029.5" width="8.2" height="8.2"/>
<rect x="1472.8" y="1036.6" width="8.2" height="8.2"/>
<rect x="1478.1" y="1040.7" width="8.2" height="8.2"/>
<rect x="1483.4" y="1045.5" width="8.2" height="8.2"/>
<rect x="1488.6" y="1048.1" width="8.2" height="8.2"/>
<rect x="1493.9" y="1053.3" width="8.2" height="8.2"/>
<rect x="1499.1" y="1058.7" width="8.2" height="8.2"/>
<rect x="1504.4" y="1061.9" width="8.2" height="8.2"/>
<rect x="1509.7" y="1066.2" width="8.2" height="8.2"/>
<rect x="1514.9" y="1068.9" width="8.2" height="8.2"/>
<rect x="1520.2" y="1072.6" width="8.2" height="8.2"/>
<rect x="1525.5" y="1073.8" width="8.2" height="8.2"/>
<rect x="1530.7" y="1075.7" width="8.2" height="8.2"/>
<rect x="1536" y="1078" width="8.2" height="8.2"/>
<rect x="1541.3" y="1077.2" width="8.2" height="8.2"/>
<rect x="1546.5" y="1077.1" width="8.2" height="8.2"/>
<rect x="1551.8" y="1079.1" width="8.2" height="8.2"/>
<rect x="1557" y="1077.6" width="8.2" height="8.2"/>
<rect x="1562.3" y="1079.8" width="8.2" height="8.2"/>
<rect x="1567.6" y="1077.4" width="8.2" height="8.2"/>
<rect x="1572.8" y="1079.6" width="8.2" height="8.2"/>
<rect x="1578.1" y="1079.7" width="8.2" height="8.2"/>
<rect x="1583.4" y="1079.7" width="8.2" height="8.2"/>
<rect x="1588.6" y="1081.8" width="8.2" height="8.2"/>
<rect x="1593.9" y="1081.9" width="8.2" height="8.2"/>
<rect x="1599.1" y="1081.1" width="8.2" height="8.2"/>
<rect x="1604.4" y="1082.1" width="8.2" height="8.2"/>
<rect x="1609.7" y="1081.7" width="8.2" height="8.2"/>
<rect x="1614.9" y="1084.3" width="8.2" height="8.2"/>
<rect x="1620.2" y="1082.2" width="8.2" height="8.2"/>
<rect x="1625.5" y="1085.3" width="8.2" height="8.2"/>
<rect x="1630.7" y="1083.4" width="8.2" height="8.2"/>
<rect x="1635.4" y="1085.9" width="8.2" height="8.2"/>
</g>
<polyline points="241.9,1093.6 247.9,1094 253.8,1094.5 259.3,1093.5 264.8,1092.6 269.4,1093.1 274,1093.6 278.6,1090.8 283.1,1088.1 287.7,1064.2 292.3,1010.2 297.8,966.2 303.3,938.8 308.8,916.8 313.3,899.4 317.9,878.3 323.5,870.7 328.8,859.7 334.2,847.7 339.9,829.8 344.6,821.9 349.3,804.6 354.1,799.8 361,784.1 365.7,768.3 371.4,754.1 377.7,742.5 381.5,720.4 387.2,708.4 391.9,702.1 397.2,689.5 402.9,667.5 407.6,676.3 413.9,694.2 418.7,711.6 424.3,687.3 429.7,650.4 434.4,602.2 440.1,516.8 445.1,347.7 449.8,283.2 455.7,204.6 460.6,212.6 465.9,146.9 471.5,128.4 476.8,109.3 482.1,107 487.6,143 492.9,216.4 497.3,295.5 503.8,407.9 508.5,488.4 513.2,602.2 518.9,682.3 524.2,790.4 529,856.6 535,895.8 540.4,929.1 547.3,966.7 554.3,988.5 561.2,1001.4 566.1,1014.3 571.1,1025.1 577,1038 581,1043 585,1047.9 589,1052.8 592.9,1057.8 597.8,1061.8 602.8,1065.7 608.8,1068.7 614.7,1071.7 620,1073.3 625.2,1075 630.5,1076.6 635.1,1077.3 639.8,1077.9 644.4,1078.6 651.3,1082.6" fill="none" stroke="#5c5c5c" stroke-width="3.2" stroke-linejoin="round"/>
<g fill="#111">
<rect x="238.3" y="1090" width="7.2" height="7.2" rx="1.5"/>
<rect x="244.3" y="1090.5" width="7.2" height="7.2" rx="1.5"/>
<rect x="250.2" y="1090.9" width="7.2" height="7.2" rx="1.5"/>
<rect x="255.7" y="1090" width="7.2" height="7.2" rx="1.5"/>
<rect x="261.2" y="1089" width="7.2" height="7.2" rx="1.5"/>
<rect x="265.8" y="1089.5" width="7.2" height="7.2" rx="1.5"/>
<rect x="270.4" y="1090" width="7.2" height="7.2" rx="1.5"/>
<rect x="274.9" y="1087.2" width="7.2" height="7.2" rx="1.5"/>
<rect x="279.5" y="1084.5" width="7.2" height="7.2" rx="1.5"/>
<rect x="284.1" y="1060.6" width="7.2" height="7.2" rx="1.5"/>
<rect x="288.7" y="1006.6" width="7.2" height="7.2" rx="1.5"/>
<rect x="294.2" y="962.6" width="7.2" height="7.2" rx="1.5"/>
<rect x="299.7" y="935.2" width="7.2" height="7.2" rx="1.5"/>
<rect x="305.2" y="913.2" width="7.2" height="7.2" rx="1.5"/>
<rect x="309.7" y="895.8" width="7.2" height="7.2" rx="1.5"/>
<rect x="314.3" y="874.7" width="7.2" height="7.2" rx="1.5"/>
<rect x="319.9" y="867.1" width="7.2" height="7.2" rx="1.5"/>
<rect x="325.2" y="856.1" width="7.2" height="7.2" rx="1.5"/>
<rect x="330.6" y="844.1" width="7.2" height="7.2" rx="1.5"/>
<rect x="336.3" y="826.2" width="7.2" height="7.2" rx="1.5"/>
<rect x="341" y="818.3" width="7.2" height="7.2" rx="1.5"/>
<rect x="345.7" y="801" width="7.2" height="7.2" rx="1.5"/>
<rect x="350.5" y="796.2" width="7.2" height="7.2" rx="1.5"/>
<rect x="357.4" y="780.5" width="7.2" height="7.2" rx="1.5"/>
<rect x="362.1" y="764.7" width="7.2" height="7.2" rx="1.5"/>
<rect x="367.8" y="750.5" width="7.2" height="7.2" rx="1.5"/>
<rect x="374.1" y="738.9" width="7.2" height="7.2" rx="1.5"/>
<rect x="377.9" y="716.8" width="7.2" height="7.2" rx="1.5"/>
<rect x="383.6" y="704.8" width="7.2" height="7.2" rx="1.5"/>
<rect x="388.3" y="698.5" width="7.2" height="7.2" rx="1.5"/>
<rect x="393.6" y="685.9" width="7.2" height="7.2" rx="1.5"/>
<rect x="399.3" y="663.9" width="7.2" height="7.2" rx="1.5"/>
<rect x="404" y="672.7" width="7.2" height="7.2" rx="1.5"/>
<rect x="410.3" y="690.6" width="7.2" height="7.2" rx="1.5"/>
<rect x="415.1" y="708" width="7.2" height="7.2" rx="1.5"/>
<rect x="420.7" y="683.7" width="7.2" height="7.2" rx="1.5"/>
<rect x="426.1" y="646.8" width="7.2" height="7.2" rx="1.5"/>
<rect x="430.8" y="598.6" width="7.2" height="7.2" rx="1.5"/>
<rect x="436.5" y="513.2" width="7.2" height="7.2" rx="1.5"/>
<rect x="441.5" y="344.1" width="7.2" height="7.2" rx="1.5"/>
<rect x="446.2" y="279.6" width="7.2" height="7.2" rx="1.5"/>
<rect x="452.1" y="201" width="7.2" height="7.2" rx="1.5"/>
<rect x="457" y="209" width="7.2" height="7.2" rx="1.5"/>
<rect x="462.3" y="143.3" width="7.2" height="7.2" rx="1.5"/>
<rect x="467.9" y="124.8" width="7.2" height="7.2" rx="1.5"/>
<rect x="473.2" y="105.7" width="7.2" height="7.2" rx="1.5"/>
<rect x="478.5" y="103.4" width="7.2" height="7.2" rx="1.5"/>
<rect x="484" y="139.4" width="7.2" height="7.2" rx="1.5"/>
<rect x="489.3" y="212.8" width="7.2" height="7.2" rx="1.5"/>
<rect x="493.7" y="291.9" width="7.2" height="7.2" rx="1.5"/>
<rect x="500.2" y="404.3" width="7.2" height="7.2" rx="1.5"/>
<rect x="504.9" y="484.8" width="7.2" height="7.2" rx="1.5"/>
<rect x="509.6" y="598.6" width="7.2" height="7.2" rx="1.5"/>
<rect x="515.3" y="678.7" width="7.2" height="7.2" rx="1.5"/>
<rect x="520.6" y="786.8" width="7.2" height="7.2" rx="1.5"/>
<rect x="525.4" y="853" width="7.2" height="7.2" rx="1.5"/>
<rect x="531.4" y="892.2" width="7.2" height="7.2" rx="1.5"/>
<rect x="536.4" y="924.7" width="8" height="8" rx="1.5"/>
<rect x="543.3" y="961.9" width="8" height="8" rx="1.5"/>
<rect x="550.3" y="984.9" width="8" height="8" rx="1.5"/>
<rect x="557.2" y="996.4" width="8" height="8" rx="1.5"/>
<rect x="562.1" y="1010.4" width="8" height="8" rx="1.5"/>
<rect x="567.1" y="1020.8" width="8" height="8" rx="1.5"/>
<rect x="573" y="1032.9" width="8" height="8" rx="1.5"/>
<rect x="577" y="1039" width="8" height="8" rx="1.5"/>
<rect x="581" y="1042.8" width="8" height="8" rx="1.5"/>
<rect x="585" y="1048.7" width="8" height="8" rx="1.5"/>
<rect x="588.9" y="1052.8" width="8" height="8" rx="1.5"/>
<rect x="593.8" y="1056.8" width="8" height="8" rx="1.5"/>
<rect x="598.8" y="1061.5" width="8" height="8" rx="1.5"/>
<rect x="604.8" y="1065.5" width="8" height="8" rx="1.5"/>
<rect x="610.7" y="1066.8" width="8" height="8" rx="1.5"/>
<rect x="616" y="1068.7" width="8" height="8" rx="1.5"/>
<rect x="621.2" y="1071.3" width="8" height="8" rx="1.5"/>
<rect x="626.5" y="1073.7" width="8" height="8" rx="1.5"/>
<rect x="631.1" y="1073.5" width="8" height="8" rx="1.5"/>
<rect x="635.8" y="1073.7" width="8" height="8" rx="1.5"/>
<rect x="640.4" y="1075.7" width="8" height="8" rx="1.5"/>
<rect x="647.3" y="1077.5" width="8" height="8" rx="1.5"/>
</g>
<g stroke="#1c1c1c" stroke-width="4.0" fill="none" stroke-linecap="butt">
<path d="M233 49.3H1710.5" />
<path d="M233 1145.5H1710.5" />
<path d="M235 47.3V1167" />
<path d="M1708.5 47.3V1167" />
<path d="M211.6 1138H235" />
<path d="M211.6 982.5H235" />
<path d="M211.6 826.9H235" />
<path d="M211.6 671.4H235" />
<path d="M211.6 515.9H235" />
<path d="M211.6 360.4H235" />
<path d="M211.6 204.8H235" />
<path d="M211.6 49.3H235" />
<path d="M222 1060.2H235" />
<path d="M222 904.7H235" />
<path d="M222 749.2H235" />
<path d="M222 593.6H235" />
<path d="M222 438.1H235" />
<path d="M222 282.6H235" />
<path d="M222 127.1H235" />
<path d="M234.9 1145.5V1167" />
<path d="M445.4 1145.5V1167" />
<path d="M655.9 1145.5V1167" />
<path d="M866.4 1145.5V1167" />
<path d="M1077 1145.5V1167" />
<path d="M1287.5 1145.5V1167" />
<path d="M1498 1145.5V1167" />
<path d="M1708.5 1145.5V1167" />
<path d="M340.2 1145.5V1157" />
<path d="M550.7 1145.5V1157" />
<path d="M761.2 1145.5V1157" />
<path d="M971.7 1145.5V1157" />
<path d="M1182.2 1145.5V1157" />
<path d="M1392.7 1145.5V1157" />
<path d="M1603.2 1145.5V1157" />
</g>
<g font-family="'Liberation Sans', Arial, Helvetica, sans-serif" font-size="57" fill="#111" stroke="#111" stroke-width="0.5">
<text x="200" y="1153" text-anchor="end">0.0</text>
<text x="200" y="997.5" text-anchor="end">0.1</text>
<text x="200" y="841.9" text-anchor="end">0.2</text>
<text x="200" y="686.4" text-anchor="end">0.3</text>
<text x="200" y="530.9" text-anchor="end">0.4</text>
<text x="200" y="375.4" text-anchor="end">0.5</text>
<text x="200" y="219.8" text-anchor="end">0.6</text>
<text x="200" y="66.6" text-anchor="end">0.7</text>
<text x="234.9" y="1224" text-anchor="middle">0</text>
<text x="445.4" y="1224" text-anchor="middle">200</text>
<text x="655.9" y="1224" text-anchor="middle">400</text>
<text x="866.4" y="1224" text-anchor="middle">600</text>
<text x="1077" y="1224" text-anchor="middle">800</text>
<text x="1287.5" y="1224" text-anchor="middle">1000</text>
<text x="1498" y="1224" text-anchor="middle">1200</text>
<text x="1708.5" y="1224" text-anchor="middle">1400</text>
</g>
<g font-family="'Liberation Sans', Arial, Helvetica, sans-serif" font-size="57" fill="#111" stroke="#111" stroke-width="0.2" text-anchor="middle">
<text x="481.2" y="97.2">(a)</text>
<text x="745.9" y="889.5">(b)</text>
<text x="1076.1" y="882.5">(d)</text>
<text x="1285.6" y="910.5">(c)</text>
<text x="1412.5" y="975.7">(e)</text>
</g>
<text x="973" y="1330.5" font-family="'Liberation Sans', Arial, Helvetica, sans-serif" font-size="68" fill="#111" stroke="#111" stroke-width="0.5" text-anchor="middle">Time (s)</text>
<text transform="translate(68.9 645.5) rotate(-90)" font-family="'Liberation Sans', Arial, Helvetica, sans-serif" font-size="68" fill="#111" stroke="#111" stroke-width="0.5" text-anchor="middle">CO<tspan font-size="41" dy="28">2</tspan><tspan dy="-28">P(g/s)</tspan></text>
</g>
</svg></body></html>
